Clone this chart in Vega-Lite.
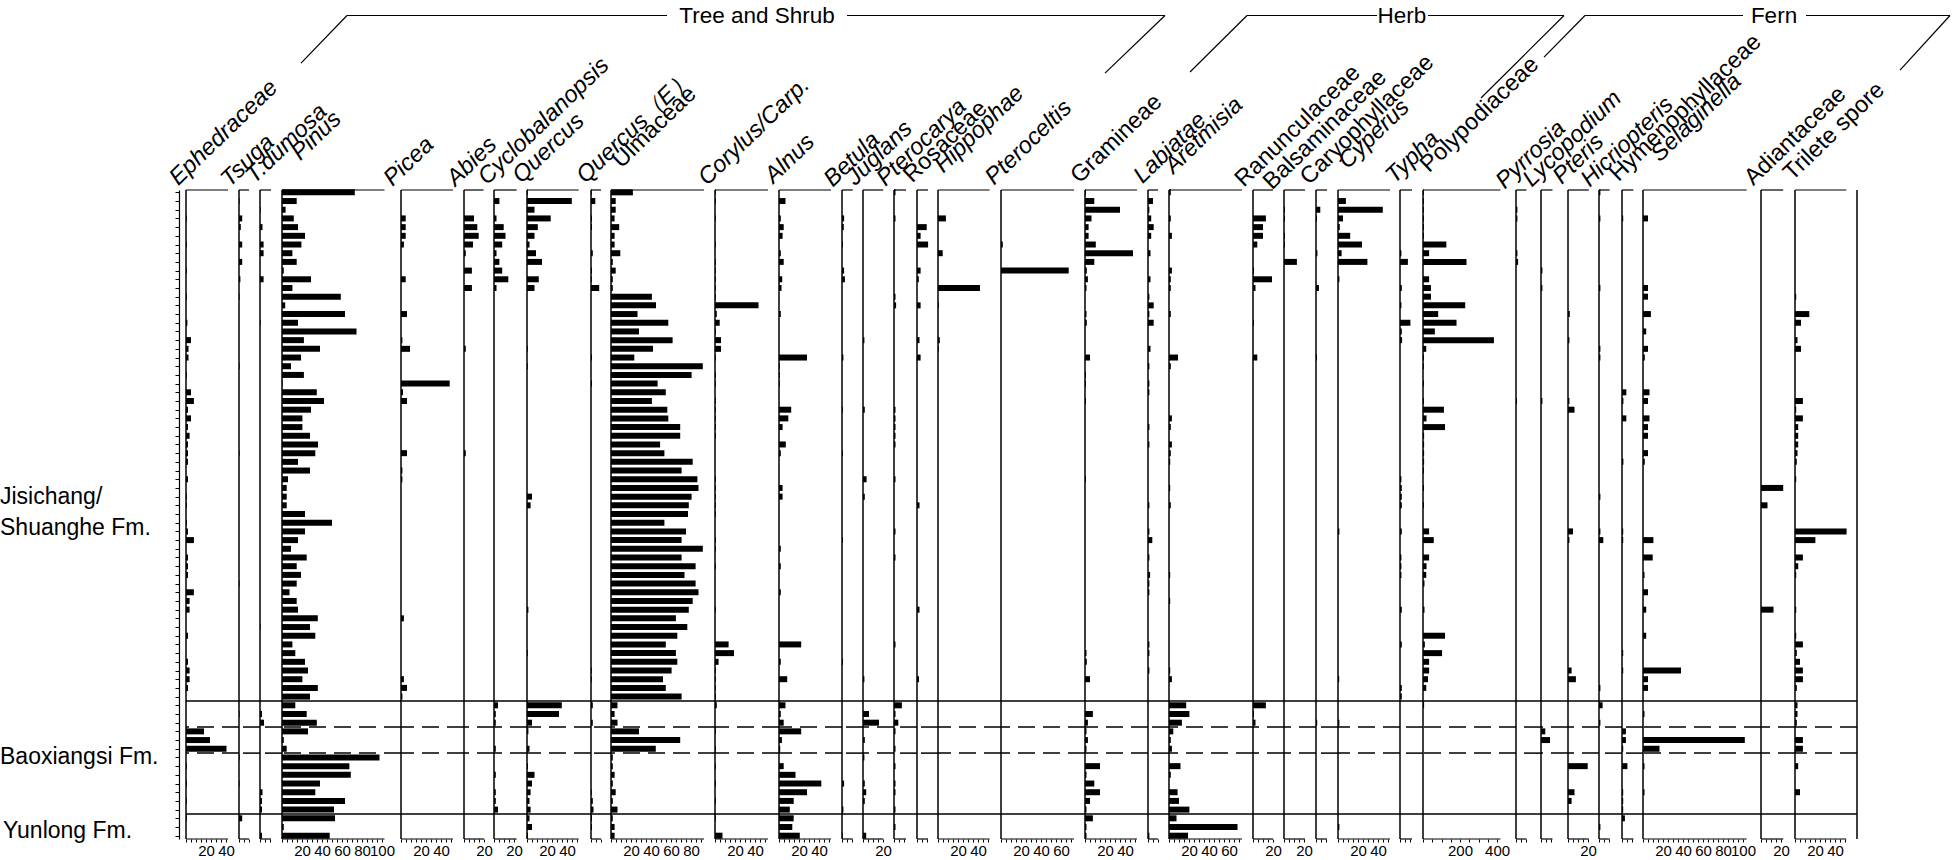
{
"$schema":"https://vega.github.io/schema/vega-lite/v6.json",
"background":"white",
"padding":{"top":5,"left":0,"right":0,"bottom":0},
"autosize":{"type":"pad"},
"spacing":0,
"bounds":"flush",
"config":{"view":{"stroke":null},"font":"Liberation Sans","text":{"font":"Liberation Sans","color":"black"},"axis":{"labelFont":"Liberation Sans"}},
"datasets":{
"z":[{"z":58.5,"s":"solid"},{"z":61.5,"s":"dash"},{"z":64.5,"s":"dash"},{"z":71.5,"s":"solid"}],
"p":[
{"t":"Eph","r":3,"v":0.8},{"t":"Eph","r":6,"v":0.8},{"t":"Eph","r":9,"v":0.8},{"t":"Eph","r":12,"v":0.8},{"t":"Eph","r":15,"v":1.4},{"t":"Eph","r":17,"v":5},{"t":"Eph","r":18,"v":2.5},{"t":"Eph","r":19,"v":2.5},{"t":"Eph","r":21,"v":0.8},{"t":"Eph","r":23,"v":5},{"t":"Eph","r":24,"v":7.9},{"t":"Eph","r":25,"v":2},{"t":"Eph","r":26,"v":5},{"t":"Eph","r":27,"v":2},{"t":"Eph","r":28,"v":3.6},{"t":"Eph","r":29,"v":2},{"t":"Eph","r":30,"v":2},{"t":"Eph","r":31,"v":2},{"t":"Eph","r":33,"v":2},{"t":"Eph","r":35,"v":0.8},{"t":"Eph","r":36,"v":0.8},{"t":"Eph","r":38,"v":0.8},{"t":"Eph","r":39,"v":2},{"t":"Eph","r":40,"v":7.9},{"t":"Eph","r":42,"v":2},{"t":"Eph","r":43,"v":2},{"t":"Eph","r":44,"v":2},{"t":"Eph","r":46,"v":7.9},{"t":"Eph","r":47,"v":3.6},{"t":"Eph","r":48,"v":3.6},{"t":"Eph","r":51,"v":2},{"t":"Eph","r":54,"v":2},{"t":"Eph","r":55,"v":3.6},{"t":"Eph","r":56,"v":3.6},{"t":"Eph","r":57,"v":2},{"t":"Eph","r":62,"v":18},{"t":"Eph","r":63,"v":24},{"t":"Eph","r":64,"v":40.5},{"t":"Eph","r":66,"v":0.8},{"t":"Eph","r":68,"v":0.8},{"t":"Eph","r":70,"v":0.8},{"t":"Eph","r":72,"v":0.8},
{"t":"Tsu","r":1,"v":0.6},{"t":"Tsu","r":3,"v":3.2},{"t":"Tsu","r":4,"v":1.8},{"t":"Tsu","r":6,"v":3.2},{"t":"Tsu","r":8,"v":3.2},{"t":"Tsu","r":10,"v":1.4},{"t":"Tsu","r":12,"v":0.6},{"t":"Tsu","r":20,"v":0.6},{"t":"Tsu","r":30,"v":0.6},{"t":"Tsu","r":45,"v":0.6},{"t":"Tsu","r":60,"v":0.6},{"t":"Tsu","r":65,"v":0.6},{"t":"Tsu","r":68,"v":0.6},{"t":"Tsu","r":72,"v":3.2},
{"t":"Tdu","r":2,"v":0.6},{"t":"Tdu","r":4,"v":2.5},{"t":"Tdu","r":6,"v":3.6},{"t":"Tdu","r":7,"v":3.6},{"t":"Tdu","r":10,"v":3.6},{"t":"Tdu","r":15,"v":0.6},{"t":"Tdu","r":50,"v":0.6},{"t":"Tdu","r":60,"v":2},{"t":"Tdu","r":61,"v":4},{"t":"Tdu","r":69,"v":2.5},{"t":"Tdu","r":70,"v":2},{"t":"Tdu","r":71,"v":2},{"t":"Tdu","r":74,"v":2},
{"t":"Pin","r":0,"v":72.8},{"t":"Pin","r":1,"v":14.7},{"t":"Pin","r":2,"v":3.6},{"t":"Pin","r":3,"v":11.8},{"t":"Pin","r":4,"v":16},{"t":"Pin","r":5,"v":23},{"t":"Pin","r":6,"v":19.4},{"t":"Pin","r":7,"v":10.4},{"t":"Pin","r":8,"v":14.7},{"t":"Pin","r":9,"v":1.8},{"t":"Pin","r":10,"v":29},{"t":"Pin","r":11,"v":10.4},{"t":"Pin","r":12,"v":58.8},{"t":"Pin","r":13,"v":3.2},{"t":"Pin","r":14,"v":63},{"t":"Pin","r":15,"v":16},{"t":"Pin","r":16,"v":74.5},{"t":"Pin","r":17,"v":21.9},{"t":"Pin","r":18,"v":38},{"t":"Pin","r":19,"v":19},{"t":"Pin","r":20,"v":9},{"t":"Pin","r":21,"v":21.9},{"t":"Pin","r":22,"v":0.5},{"t":"Pin","r":23,"v":34.8},{"t":"Pin","r":24,"v":42},{"t":"Pin","r":25,"v":29},{"t":"Pin","r":26,"v":20.4},{"t":"Pin","r":27,"v":20.4},{"t":"Pin","r":28,"v":28},{"t":"Pin","r":29,"v":36},{"t":"Pin","r":30,"v":33.3},{"t":"Pin","r":31,"v":16},{"t":"Pin","r":32,"v":28},{"t":"Pin","r":33,"v":6},{"t":"Pin","r":34,"v":4.7},{"t":"Pin","r":35,"v":4.7},{"t":"Pin","r":36,"v":4.7},{"t":"Pin","r":37,"v":23},{"t":"Pin","r":38,"v":50},{"t":"Pin","r":39,"v":23},{"t":"Pin","r":40,"v":16},{"t":"Pin","r":41,"v":9},{"t":"Pin","r":42,"v":24.7},{"t":"Pin","r":43,"v":14.7},{"t":"Pin","r":44,"v":19},{"t":"Pin","r":45,"v":14.7},{"t":"Pin","r":46,"v":7.5},{"t":"Pin","r":47,"v":14.7},{"t":"Pin","r":48,"v":16},{"t":"Pin","r":49,"v":35.8},{"t":"Pin","r":50,"v":28},{"t":"Pin","r":51,"v":33.3},{"t":"Pin","r":52,"v":10.4},{"t":"Pin","r":53,"v":13.3},{"t":"Pin","r":54,"v":23},{"t":"Pin","r":55,"v":26},{"t":"Pin","r":56,"v":20.4},{"t":"Pin","r":57,"v":35.8},{"t":"Pin","r":58,"v":28},{"t":"Pin","r":59,"v":13.3},{"t":"Pin","r":60,"v":24.7},{"t":"Pin","r":61,"v":34.8},{"t":"Pin","r":62,"v":26},{"t":"Pin","r":63,"v":1.8},{"t":"Pin","r":64,"v":4.7},{"t":"Pin","r":65,"v":97.5},{"t":"Pin","r":66,"v":67.4},{"t":"Pin","r":67,"v":68.8},{"t":"Pin","r":68,"v":38},{"t":"Pin","r":69,"v":33.3},{"t":"Pin","r":70,"v":63},{"t":"Pin","r":71,"v":52},{"t":"Pin","r":72,"v":53},{"t":"Pin","r":73,"v":1.8},{"t":"Pin","r":74,"v":47.7},
{"t":"Pic","r":3,"v":4.7},{"t":"Pic","r":4,"v":4.7},{"t":"Pic","r":5,"v":4.7},{"t":"Pic","r":6,"v":2.9},{"t":"Pic","r":10,"v":4.7},{"t":"Pic","r":14,"v":6},{"t":"Pic","r":17,"v":1.4},{"t":"Pic","r":18,"v":9},{"t":"Pic","r":22,"v":48.7},{"t":"Pic","r":23,"v":2},{"t":"Pic","r":24,"v":6},{"t":"Pic","r":30,"v":6},{"t":"Pic","r":32,"v":1.4},{"t":"Pic","r":33,"v":1.4},{"t":"Pic","r":49,"v":2.9},{"t":"Pic","r":56,"v":2.9},{"t":"Pic","r":57,"v":6},{"t":"Pic","r":58,"v":1.4},
{"t":"Abi","r":3,"v":10},{"t":"Abi","r":4,"v":13.3},{"t":"Abi","r":5,"v":14.7},{"t":"Abi","r":6,"v":9},{"t":"Abi","r":7,"v":1.8},{"t":"Abi","r":9,"v":7.9},{"t":"Abi","r":11,"v":7.9},{"t":"Abi","r":18,"v":1.8},{"t":"Abi","r":30,"v":1.8},
{"t":"Cyc","r":1,"v":5.4},{"t":"Cyc","r":3,"v":2.5},{"t":"Cyc","r":4,"v":9.7},{"t":"Cyc","r":5,"v":11.5},{"t":"Cyc","r":6,"v":8.2},{"t":"Cyc","r":7,"v":2.5},{"t":"Cyc","r":8,"v":5.4},{"t":"Cyc","r":9,"v":8.2},{"t":"Cyc","r":10,"v":14.3},{"t":"Cyc","r":11,"v":2.5},{"t":"Cyc","r":59,"v":4},{"t":"Cyc","r":60,"v":1.8},{"t":"Cyc","r":61,"v":1.8},{"t":"Cyc","r":64,"v":1.8},{"t":"Cyc","r":67,"v":1.8},{"t":"Cyc","r":69,"v":1.8},{"t":"Cyc","r":70,"v":1.8},{"t":"Cyc","r":71,"v":4},
{"t":"Que","r":0,"v":0.8},{"t":"Que","r":1,"v":44.8},{"t":"Que","r":2,"v":7.5},{"t":"Que","r":3,"v":23.7},{"t":"Que","r":4,"v":10.8},{"t":"Que","r":5,"v":7.5},{"t":"Que","r":6,"v":2.5},{"t":"Que","r":7,"v":9},{"t":"Que","r":8,"v":15},{"t":"Que","r":10,"v":11.8},{"t":"Que","r":11,"v":7.5},{"t":"Que","r":18,"v":0.8},{"t":"Que","r":20,"v":0.8},{"t":"Que","r":35,"v":5},{"t":"Que","r":36,"v":3.6},{"t":"Que","r":48,"v":1.4},{"t":"Que","r":53,"v":0.8},{"t":"Que","r":59,"v":34.8},{"t":"Que","r":60,"v":32},{"t":"Que","r":61,"v":5},{"t":"Que","r":62,"v":1.4},{"t":"Que","r":64,"v":2.5},{"t":"Que","r":66,"v":1},{"t":"Que","r":67,"v":7.5},{"t":"Que","r":68,"v":5},{"t":"Que","r":69,"v":3.6},{"t":"Que","r":70,"v":2.5},{"t":"Que","r":71,"v":3.6},{"t":"Que","r":72,"v":2.5},{"t":"Que","r":73,"v":5},{"t":"Que","r":74,"v":1},
{"t":"QuE","r":0,"v":0.8},{"t":"QuE","r":1,"v":4.3},{"t":"QuE","r":3,"v":1},{"t":"QuE","r":4,"v":1},{"t":"QuE","r":7,"v":1.8},{"t":"QuE","r":9,"v":1},{"t":"QuE","r":10,"v":0.8},{"t":"QuE","r":11,"v":8.2},{"t":"QuE","r":19,"v":1},{"t":"QuE","r":22,"v":1},{"t":"QuE","r":55,"v":0.8},{"t":"QuE","r":56,"v":0.8},{"t":"QuE","r":59,"v":1.8},{"t":"QuE","r":61,"v":1.8},{"t":"QuE","r":69,"v":0.8},{"t":"QuE","r":70,"v":1.8},{"t":"QuE","r":71,"v":2.5},{"t":"QuE","r":72,"v":1},{"t":"QuE","r":73,"v":1},
{"t":"Ulm","r":0,"v":21.9},{"t":"Ulm","r":1,"v":4.7},{"t":"Ulm","r":2,"v":4.7},{"t":"Ulm","r":3,"v":3.6},{"t":"Ulm","r":4,"v":8.2},{"t":"Ulm","r":5,"v":3.6},{"t":"Ulm","r":6,"v":3.6},{"t":"Ulm","r":7,"v":9.3},{"t":"Ulm","r":8,"v":1.8},{"t":"Ulm","r":9,"v":4.7},{"t":"Ulm","r":10,"v":1.8},{"t":"Ulm","r":11,"v":1.8},{"t":"Ulm","r":12,"v":40.9},{"t":"Ulm","r":13,"v":45},{"t":"Ulm","r":14,"v":26.5},{"t":"Ulm","r":15,"v":57.3},{"t":"Ulm","r":16,"v":28},{"t":"Ulm","r":17,"v":61.6},{"t":"Ulm","r":18,"v":42},{"t":"Ulm","r":19,"v":23.3},{"t":"Ulm","r":20,"v":91.8},{"t":"Ulm","r":21,"v":80.6},{"t":"Ulm","r":22,"v":46.6},{"t":"Ulm","r":23,"v":54.8},{"t":"Ulm","r":24,"v":40.9},{"t":"Ulm","r":25,"v":56.3},{"t":"Ulm","r":26,"v":57.3},{"t":"Ulm","r":27,"v":69.2},{"t":"Ulm","r":28,"v":69.2},{"t":"Ulm","r":29,"v":49.1},{"t":"Ulm","r":30,"v":53.4},{"t":"Ulm","r":31,"v":81.7},{"t":"Ulm","r":32,"v":70.6},{"t":"Ulm","r":33,"v":86.4},{"t":"Ulm","r":34,"v":87.5},{"t":"Ulm","r":35,"v":80.6},{"t":"Ulm","r":36,"v":77.8},{"t":"Ulm","r":37,"v":77},{"t":"Ulm","r":38,"v":53.4},{"t":"Ulm","r":39,"v":75},{"t":"Ulm","r":40,"v":70.6},{"t":"Ulm","r":41,"v":91.8},{"t":"Ulm","r":42,"v":70.6},{"t":"Ulm","r":43,"v":84.6},{"t":"Ulm","r":44,"v":73.5},{"t":"Ulm","r":45,"v":84.6},{"t":"Ulm","r":46,"v":87.5},{"t":"Ulm","r":47,"v":81.7},{"t":"Ulm","r":48,"v":77.8},{"t":"Ulm","r":49,"v":64.9},{"t":"Ulm","r":50,"v":76.3},{"t":"Ulm","r":51,"v":66.3},{"t":"Ulm","r":52,"v":54.8},{"t":"Ulm","r":53,"v":64.9},{"t":"Ulm","r":54,"v":66.3},{"t":"Ulm","r":55,"v":60.6},{"t":"Ulm","r":56,"v":52},{"t":"Ulm","r":57,"v":54.8},{"t":"Ulm","r":58,"v":70.6},{"t":"Ulm","r":59,"v":6.5},{"t":"Ulm","r":60,"v":3.6},{"t":"Ulm","r":61,"v":6.5},{"t":"Ulm","r":62,"v":28},{"t":"Ulm","r":63,"v":69.2},{"t":"Ulm","r":64,"v":44.8},{"t":"Ulm","r":65,"v":1.8},{"t":"Ulm","r":66,"v":1.8},{"t":"Ulm","r":67,"v":3.6},{"t":"Ulm","r":68,"v":1.8},{"t":"Ulm","r":69,"v":4.7},{"t":"Ulm","r":70,"v":1.8},{"t":"Ulm","r":71,"v":6.5},{"t":"Ulm","r":72,"v":1.8},{"t":"Ulm","r":73,"v":3.6},{"t":"Ulm","r":74,"v":3.6},
{"t":"Cor","r":0,"v":0.8},{"t":"Cor","r":1,"v":0.8},{"t":"Cor","r":3,"v":0.8},{"t":"Cor","r":6,"v":0.8},{"t":"Cor","r":8,"v":0.8},{"t":"Cor","r":9,"v":0.8},{"t":"Cor","r":10,"v":0.8},{"t":"Cor","r":11,"v":0.8},{"t":"Cor","r":12,"v":0.8},{"t":"Cor","r":13,"v":43.5},{"t":"Cor","r":14,"v":1.8},{"t":"Cor","r":15,"v":4.7},{"t":"Cor","r":16,"v":0.8},{"t":"Cor","r":17,"v":6},{"t":"Cor","r":18,"v":6},{"t":"Cor","r":19,"v":0.8},{"t":"Cor","r":21,"v":0.8},{"t":"Cor","r":22,"v":0.8},{"t":"Cor","r":24,"v":0.8},{"t":"Cor","r":25,"v":0.8},{"t":"Cor","r":26,"v":0.8},{"t":"Cor","r":27,"v":0.8},{"t":"Cor","r":28,"v":0.8},{"t":"Cor","r":33,"v":0.8},{"t":"Cor","r":34,"v":0.8},{"t":"Cor","r":35,"v":0.8},{"t":"Cor","r":36,"v":0.8},{"t":"Cor","r":37,"v":0.8},{"t":"Cor","r":40,"v":0.8},{"t":"Cor","r":41,"v":0.8},{"t":"Cor","r":43,"v":0.8},{"t":"Cor","r":48,"v":0.8},{"t":"Cor","r":52,"v":13.6},{"t":"Cor","r":53,"v":19},{"t":"Cor","r":54,"v":3.6},{"t":"Cor","r":55,"v":0.8},{"t":"Cor","r":56,"v":0.8},{"t":"Cor","r":57,"v":0.8},{"t":"Cor","r":58,"v":0.8},{"t":"Cor","r":59,"v":1.8},{"t":"Cor","r":62,"v":0.8},{"t":"Cor","r":64,"v":0.8},{"t":"Cor","r":66,"v":0.8},{"t":"Cor","r":68,"v":0.8},{"t":"Cor","r":70,"v":0.8},{"t":"Cor","r":72,"v":0.8},{"t":"Cor","r":74,"v":7.5},
{"t":"Aln","r":1,"v":6.5},{"t":"Aln","r":3,"v":1.8},{"t":"Aln","r":4,"v":4.7},{"t":"Aln","r":5,"v":3.6},{"t":"Aln","r":7,"v":1.8},{"t":"Aln","r":8,"v":4.7},{"t":"Aln","r":10,"v":3.2},{"t":"Aln","r":11,"v":2.5},{"t":"Aln","r":14,"v":1.8},{"t":"Aln","r":19,"v":28},{"t":"Aln","r":20,"v":0.8},{"t":"Aln","r":21,"v":0.8},{"t":"Aln","r":22,"v":0.8},{"t":"Aln","r":25,"v":12.2},{"t":"Aln","r":26,"v":9.3},{"t":"Aln","r":27,"v":3.6},{"t":"Aln","r":29,"v":6.8},{"t":"Aln","r":30,"v":1.8},{"t":"Aln","r":34,"v":3.6},{"t":"Aln","r":35,"v":3.6},{"t":"Aln","r":41,"v":1.8},{"t":"Aln","r":43,"v":1.8},{"t":"Aln","r":46,"v":1.8},{"t":"Aln","r":52,"v":22.2},{"t":"Aln","r":54,"v":1.8},{"t":"Aln","r":56,"v":8.2},{"t":"Aln","r":59,"v":6.5},{"t":"Aln","r":60,"v":1.8},{"t":"Aln","r":61,"v":4.7},{"t":"Aln","r":62,"v":22.2},{"t":"Aln","r":63,"v":2.9},{"t":"Aln","r":64,"v":1.2},{"t":"Aln","r":66,"v":4.7},{"t":"Aln","r":67,"v":16.5},{"t":"Aln","r":68,"v":42.3},{"t":"Aln","r":69,"v":28},{"t":"Aln","r":70,"v":14.7},{"t":"Aln","r":71,"v":10.8},{"t":"Aln","r":72,"v":14.7},{"t":"Aln","r":73,"v":13.3},{"t":"Aln","r":74,"v":20.8},
{"t":"Bet","r":3,"v":2.1},{"t":"Bet","r":4,"v":1.8},{"t":"Bet","r":6,"v":1},{"t":"Bet","r":9,"v":2.1},{"t":"Bet","r":10,"v":2.9},{"t":"Bet","r":19,"v":1.4},{"t":"Bet","r":25,"v":0.8},{"t":"Bet","r":30,"v":0.8},{"t":"Bet","r":40,"v":0.8},{"t":"Bet","r":54,"v":1},{"t":"Bet","r":68,"v":2.1},{"t":"Bet","r":71,"v":1.4},{"t":"Bet","r":74,"v":0.8},
{"t":"Jug","r":17,"v":1.4},{"t":"Jug","r":25,"v":1.8},{"t":"Jug","r":33,"v":3.6},{"t":"Jug","r":35,"v":1.8},{"t":"Jug","r":56,"v":1.4},{"t":"Jug","r":60,"v":6},{"t":"Jug","r":61,"v":16},{"t":"Jug","r":63,"v":1.8},{"t":"Jug","r":65,"v":1.4},{"t":"Jug","r":68,"v":1.8},{"t":"Jug","r":69,"v":3.2},{"t":"Jug","r":70,"v":1.8},{"t":"Jug","r":74,"v":3.2},
{"t":"Ptc","r":0,"v":1.5},{"t":"Ptc","r":3,"v":1.5},{"t":"Ptc","r":12,"v":1.5},{"t":"Ptc","r":13,"v":2.1},{"t":"Ptc","r":25,"v":1.5},{"t":"Ptc","r":26,"v":1.5},{"t":"Ptc","r":27,"v":1.5},{"t":"Ptc","r":28,"v":1.5},{"t":"Ptc","r":29,"v":1.5},{"t":"Ptc","r":33,"v":1.5},{"t":"Ptc","r":39,"v":1.5},{"t":"Ptc","r":42,"v":1.5},{"t":"Ptc","r":52,"v":1.5},{"t":"Ptc","r":59,"v":7.9},{"t":"Ptc","r":60,"v":1.5},{"t":"Ptc","r":61,"v":4.3},{"t":"Ptc","r":62,"v":1.5},{"t":"Ptc","r":64,"v":1.5},{"t":"Ptc","r":66,"v":1.5},{"t":"Ptc","r":68,"v":1.5},{"t":"Ptc","r":69,"v":1.5},{"t":"Ptc","r":71,"v":1.5},{"t":"Ptc","r":73,"v":1.5},
{"t":"Ros","r":4,"v":9.7},{"t":"Ros","r":5,"v":3.6},{"t":"Ros","r":6,"v":11.1},{"t":"Ros","r":9,"v":3.6},{"t":"Ros","r":10,"v":1.8},{"t":"Ros","r":13,"v":3.6},{"t":"Ros","r":17,"v":2.5},{"t":"Ros","r":19,"v":3.6},{"t":"Ros","r":36,"v":2.5},{"t":"Ros","r":48,"v":2.5},{"t":"Ros","r":56,"v":2},
{"t":"Hip","r":3,"v":7.9},{"t":"Hip","r":7,"v":4.7},{"t":"Hip","r":11,"v":42},{"t":"Hip","r":13,"v":0.8},{"t":"Hip","r":17,"v":1.8},{"t":"Hip","r":18,"v":0.8},
{"t":"Ptl","r":6,"v":1.8},{"t":"Ptl","r":9,"v":67.7},
{"t":"Gra","r":0,"v":0.8},{"t":"Gra","r":1,"v":9.3},{"t":"Gra","r":2,"v":35},{"t":"Gra","r":3,"v":6.5},{"t":"Gra","r":4,"v":3.6},{"t":"Gra","r":5,"v":3.6},{"t":"Gra","r":6,"v":10.8},{"t":"Gra","r":7,"v":48},{"t":"Gra","r":8,"v":9.3},{"t":"Gra","r":9,"v":1.8},{"t":"Gra","r":10,"v":2.9},{"t":"Gra","r":11,"v":1.5},{"t":"Gra","r":14,"v":1.5},{"t":"Gra","r":15,"v":1.8},{"t":"Gra","r":19,"v":5},{"t":"Gra","r":21,"v":1},{"t":"Gra","r":22,"v":1},{"t":"Gra","r":24,"v":1},{"t":"Gra","r":33,"v":1},{"t":"Gra","r":53,"v":1.5},{"t":"Gra","r":54,"v":1.8},{"t":"Gra","r":56,"v":5},{"t":"Gra","r":60,"v":7.9},{"t":"Gra","r":61,"v":2.9},{"t":"Gra","r":62,"v":1.5},{"t":"Gra","r":63,"v":2.9},{"t":"Gra","r":64,"v":1.5},{"t":"Gra","r":66,"v":15},{"t":"Gra","r":67,"v":1.5},{"t":"Gra","r":68,"v":9.3},{"t":"Gra","r":69,"v":15},{"t":"Gra","r":70,"v":5},{"t":"Gra","r":71,"v":1.5},{"t":"Gra","r":72,"v":7.9},{"t":"Gra","r":73,"v":1.5},{"t":"Gra","r":74,"v":1.5},
{"t":"Lab","r":1,"v":5},{"t":"Lab","r":2,"v":1.4},{"t":"Lab","r":3,"v":3.2},{"t":"Lab","r":4,"v":5.7},{"t":"Lab","r":5,"v":3.2},{"t":"Lab","r":7,"v":2.5},{"t":"Lab","r":10,"v":2.5},{"t":"Lab","r":12,"v":1.4},{"t":"Lab","r":13,"v":5.7},{"t":"Lab","r":14,"v":1.4},{"t":"Lab","r":15,"v":5.7},{"t":"Lab","r":18,"v":2.5},{"t":"Lab","r":20,"v":1.4},{"t":"Lab","r":22,"v":1.4},{"t":"Lab","r":23,"v":1.4},{"t":"Lab","r":27,"v":1.4},{"t":"Lab","r":29,"v":1.4},{"t":"Lab","r":36,"v":1.4},{"t":"Lab","r":39,"v":1.4},{"t":"Lab","r":40,"v":4.3},{"t":"Lab","r":42,"v":1.4},{"t":"Lab","r":44,"v":2.1},{"t":"Lab","r":45,"v":1.4},{"t":"Lab","r":46,"v":1.4},{"t":"Lab","r":52,"v":1.4},{"t":"Lab","r":53,"v":1.4},{"t":"Lab","r":55,"v":1.4},{"t":"Lab","r":74,"v":1.4},
{"t":"Art","r":0,"v":1.8},{"t":"Art","r":3,"v":1.8},{"t":"Art","r":5,"v":2.9},{"t":"Art","r":9,"v":2.9},{"t":"Art","r":10,"v":1.8},{"t":"Art","r":11,"v":1.8},{"t":"Art","r":14,"v":1.8},{"t":"Art","r":19,"v":9},{"t":"Art","r":20,"v":1.8},{"t":"Art","r":26,"v":2.9},{"t":"Art","r":27,"v":1.8},{"t":"Art","r":29,"v":2.9},{"t":"Art","r":30,"v":1.8},{"t":"Art","r":31,"v":1.2},{"t":"Art","r":34,"v":1.2},{"t":"Art","r":36,"v":1.8},{"t":"Art","r":44,"v":1.2},{"t":"Art","r":47,"v":1.2},{"t":"Art","r":55,"v":1.2},{"t":"Art","r":56,"v":2.9},{"t":"Art","r":59,"v":17.2},{"t":"Art","r":60,"v":20.4},{"t":"Art","r":61,"v":12.9},{"t":"Art","r":62,"v":4.3},{"t":"Art","r":63,"v":1.8},{"t":"Art","r":64,"v":2.9},{"t":"Art","r":66,"v":11.5},{"t":"Art","r":67,"v":1.8},{"t":"Art","r":69,"v":8.6},{"t":"Art","r":70,"v":10},{"t":"Art","r":71,"v":20.4},{"t":"Art","r":72,"v":7.5},{"t":"Art","r":73,"v":68.5},{"t":"Art","r":74,"v":19},
{"t":"Ran","r":3,"v":12.9},{"t":"Ran","r":4,"v":10},{"t":"Ran","r":5,"v":10},{"t":"Ran","r":6,"v":4.3},{"t":"Ran","r":9,"v":1},{"t":"Ran","r":10,"v":19},{"t":"Ran","r":11,"v":2.5},{"t":"Ran","r":15,"v":1},{"t":"Ran","r":19,"v":4.3},{"t":"Ran","r":59,"v":12.9},{"t":"Ran","r":60,"v":1},{"t":"Ran","r":61,"v":2.5},
{"t":"Bal","r":2,"v":1},{"t":"Bal","r":3,"v":1},{"t":"Bal","r":5,"v":1},{"t":"Bal","r":6,"v":1},{"t":"Bal","r":8,"v":12.9},
{"t":"Car","r":2,"v":4.3},{"t":"Car","r":3,"v":1},{"t":"Car","r":7,"v":1.4},{"t":"Car","r":11,"v":2.9},{"t":"Car","r":19,"v":1},{"t":"Car","r":61,"v":1.2},
{"t":"Cyp","r":1,"v":7.9},{"t":"Cyp","r":2,"v":44.8},{"t":"Cyp","r":3,"v":5},{"t":"Cyp","r":4,"v":1.8},{"t":"Cyp","r":5,"v":12.2},{"t":"Cyp","r":6,"v":24},{"t":"Cyp","r":7,"v":3.6},{"t":"Cyp","r":8,"v":29.4},{"t":"Cyp","r":10,"v":1.4},{"t":"Cyp","r":39,"v":1.4},{"t":"Cyp","r":56,"v":1.2},{"t":"Cyp","r":61,"v":1.4},{"t":"Cyp","r":73,"v":1.4},
{"t":"Typ","r":7,"v":1.4},{"t":"Typ","r":8,"v":7.9},{"t":"Typ","r":11,"v":1.8},{"t":"Typ","r":13,"v":1.4},{"t":"Typ","r":15,"v":10.4},{"t":"Typ","r":16,"v":1.8},{"t":"Typ","r":17,"v":2.1},{"t":"Typ","r":33,"v":1.4},{"t":"Typ","r":34,"v":1.8},{"t":"Typ","r":35,"v":1.8},{"t":"Typ","r":36,"v":1.8},{"t":"Typ","r":39,"v":1.8},{"t":"Typ","r":42,"v":1.4},{"t":"Typ","r":43,"v":1.4},{"t":"Typ","r":44,"v":1.4},{"t":"Typ","r":48,"v":1.8},{"t":"Typ","r":52,"v":1.8},{"t":"Typ","r":57,"v":1.8},{"t":"Typ","r":58,"v":1.8},
{"t":"Pol","r":0,"v":5},{"t":"Pol","r":1,"v":5},{"t":"Pol","r":2,"v":5},{"t":"Pol","r":3,"v":5},{"t":"Pol","r":4,"v":5},{"t":"Pol","r":5,"v":5},{"t":"Pol","r":6,"v":126},{"t":"Pol","r":7,"v":33},{"t":"Pol","r":8,"v":235},{"t":"Pol","r":10,"v":33},{"t":"Pol","r":11,"v":43},{"t":"Pol","r":12,"v":43},{"t":"Pol","r":13,"v":228},{"t":"Pol","r":14,"v":82},{"t":"Pol","r":15,"v":181},{"t":"Pol","r":16,"v":64},{"t":"Pol","r":17,"v":383},{"t":"Pol","r":18,"v":17.5},{"t":"Pol","r":19,"v":5},{"t":"Pol","r":20,"v":5},{"t":"Pol","r":22,"v":5},{"t":"Pol","r":24,"v":5},{"t":"Pol","r":25,"v":113},{"t":"Pol","r":26,"v":19},{"t":"Pol","r":27,"v":119},{"t":"Pol","r":28,"v":6},{"t":"Pol","r":29,"v":6},{"t":"Pol","r":30,"v":6},{"t":"Pol","r":31,"v":6},{"t":"Pol","r":32,"v":5},{"t":"Pol","r":34,"v":5},{"t":"Pol","r":36,"v":5},{"t":"Pol","r":39,"v":33},{"t":"Pol","r":40,"v":58},{"t":"Pol","r":42,"v":33},{"t":"Pol","r":43,"v":19},{"t":"Pol","r":44,"v":17.5},{"t":"Pol","r":45,"v":8},{"t":"Pol","r":48,"v":8},{"t":"Pol","r":51,"v":119},{"t":"Pol","r":52,"v":10},{"t":"Pol","r":53,"v":103},{"t":"Pol","r":54,"v":33},{"t":"Pol","r":55,"v":33},{"t":"Pol","r":56,"v":27},{"t":"Pol","r":57,"v":17.5},{"t":"Pol","r":59,"v":6},
{"t":"Pyr","r":2,"v":1.4},{"t":"Pyr","r":3,"v":1.4},{"t":"Pyr","r":7,"v":1.4},{"t":"Pyr","r":8,"v":2.1},{"t":"Pyr","r":24,"v":1},
{"t":"Lyc","r":9,"v":1.4},{"t":"Lyc","r":11,"v":1.4},{"t":"Lyc","r":24,"v":1.4},{"t":"Lyc","r":62,"v":4.3},{"t":"Lyc","r":63,"v":9},
{"t":"Pte","r":14,"v":1.8},{"t":"Pte","r":17,"v":1.4},{"t":"Pte","r":24,"v":1.4},{"t":"Pte","r":25,"v":6.5},{"t":"Pte","r":39,"v":5},{"t":"Pte","r":40,"v":1.4},{"t":"Pte","r":55,"v":3.6},{"t":"Pte","r":56,"v":7.9},{"t":"Pte","r":66,"v":19.7},{"t":"Pte","r":69,"v":6.5},{"t":"Pte","r":70,"v":3.6},
{"t":"Hic","r":0,"v":1.4},{"t":"Hic","r":3,"v":1.4},{"t":"Hic","r":11,"v":1.4},{"t":"Hic","r":18,"v":1.4},{"t":"Hic","r":19,"v":1.4},{"t":"Hic","r":35,"v":1.4},{"t":"Hic","r":39,"v":1.4},{"t":"Hic","r":40,"v":4.3},{"t":"Hic","r":57,"v":1.4},{"t":"Hic","r":59,"v":3.6},{"t":"Hic","r":61,"v":1.4},{"t":"Hic","r":73,"v":1.4},
{"t":"Hym","r":3,"v":1.2},{"t":"Hym","r":23,"v":4.3},{"t":"Hym","r":24,"v":1.4},{"t":"Hym","r":26,"v":4.3},{"t":"Hym","r":31,"v":1.4},{"t":"Hym","r":39,"v":1.2},{"t":"Hym","r":40,"v":1.2},{"t":"Hym","r":53,"v":1.2},{"t":"Hym","r":55,"v":1.2},{"t":"Hym","r":62,"v":3.9},{"t":"Hym","r":63,"v":3.9},{"t":"Hym","r":64,"v":1.2},{"t":"Hym","r":66,"v":5.4},{"t":"Hym","r":69,"v":1.2},{"t":"Hym","r":70,"v":1.2},{"t":"Hym","r":71,"v":1.2},{"t":"Hym","r":72,"v":2.9},
{"t":"Sel","r":3,"v":5},{"t":"Sel","r":11,"v":5},{"t":"Sel","r":12,"v":5},{"t":"Sel","r":14,"v":7.9},{"t":"Sel","r":16,"v":3.2},{"t":"Sel","r":18,"v":5},{"t":"Sel","r":19,"v":1.8},{"t":"Sel","r":23,"v":6.5},{"t":"Sel","r":24,"v":5},{"t":"Sel","r":26,"v":6.5},{"t":"Sel","r":27,"v":5},{"t":"Sel","r":28,"v":5},{"t":"Sel","r":30,"v":5},{"t":"Sel","r":31,"v":1.8},{"t":"Sel","r":40,"v":10.4},{"t":"Sel","r":42,"v":9.7},{"t":"Sel","r":44,"v":1.5},{"t":"Sel","r":46,"v":5},{"t":"Sel","r":48,"v":3.2},{"t":"Sel","r":51,"v":3.2},{"t":"Sel","r":55,"v":38},{"t":"Sel","r":56,"v":5},{"t":"Sel","r":57,"v":5},{"t":"Sel","r":60,"v":1.5},{"t":"Sel","r":63,"v":101.8},{"t":"Sel","r":64,"v":16.5},{"t":"Sel","r":66,"v":1.5},{"t":"Sel","r":69,"v":1.5},
{"t":"Adi","r":34,"v":22.2},{"t":"Adi","r":36,"v":6.5},{"t":"Adi","r":48,"v":12.5},
{"t":"Tri","r":12,"v":1.2},{"t":"Tri","r":14,"v":14.3},{"t":"Tri","r":15,"v":6},{"t":"Tri","r":17,"v":2.5},{"t":"Tri","r":18,"v":6},{"t":"Tri","r":24,"v":7.9},{"t":"Tri","r":25,"v":1.2},{"t":"Tri","r":26,"v":7.9},{"t":"Tri","r":27,"v":3.2},{"t":"Tri","r":28,"v":3.2},{"t":"Tri","r":29,"v":3.2},{"t":"Tri","r":30,"v":2.5},{"t":"Tri","r":31,"v":1.8},{"t":"Tri","r":33,"v":1.2},{"t":"Tri","r":39,"v":51.6},{"t":"Tri","r":40,"v":20.4},{"t":"Tri","r":42,"v":7.9},{"t":"Tri","r":43,"v":3.2},{"t":"Tri","r":44,"v":1.2},{"t":"Tri","r":48,"v":1.2},{"t":"Tri","r":51,"v":1.2},{"t":"Tri","r":52,"v":7.9},{"t":"Tri","r":53,"v":1.8},{"t":"Tri","r":54,"v":5},{"t":"Tri","r":55,"v":7.9},{"t":"Tri","r":56,"v":7.9},{"t":"Tri","r":57,"v":1.8},{"t":"Tri","r":59,"v":2.5},{"t":"Tri","r":60,"v":2.5},{"t":"Tri","r":61,"v":1.8},{"t":"Tri","r":63,"v":7.9},{"t":"Tri","r":64,"v":7.9},{"t":"Tri","r":66,"v":3.2},{"t":"Tri","r":69,"v":5}
]},
"hconcat":[
{"width":53,"height":649,"resolve":{"axis":{"x":"independent","y":"independent"}},"layer":[
{"data":{"name":"p"},"transform":[{"filter":"datum.t==='Eph'"}],"mark":{"type":"bar","orient":"horizontal","size":6,"color":"black"},"encoding":{"y":{"field":"r","type":"quantitative","scale":{"domain":[-0.27,74.38],"reverse":true,"nice":false,"zero":false,"padding":0},"axis":{"orient":"left","offset":7,"values":[0,1,2,3,4,5,6,7,8,9,10,11,12,13,14,15,16,17,18,19,20,21,22,23,24,25,26,27,28,29,30,31,32,33,34,35,36,37,38,39,40,41,42,43,44,45,46,47,48,49,50,51,52,53,54,55,56,57,58,59,60,61,62,63,64,65,66,67,68,69,70,71,72,73,74],"labels":false,"ticks":true,"tickSize":4,"tickColor":"black","domain":true,"domainColor":"black","domainWidth":1.2,"grid":false,"title":null}},"x":{"field":"v","type":"quantitative","scale":{"domain":[0,53],"nice":false},"axis":{"values":[0,5,10,15,20,25,30,35,40],"domain":false,"grid":false,"title":null,"tickSize":3,"tickColor":"black","labelExpr":"datum.value > 0 && datum.value % 20 === 0 ? datum.label : ''","labelFontSize":15,"labelPadding":1,"labelColor":"black","labelOverlap":false,"labelFlush":false,"labelBound":false}}}},
{"data":{"values":[{}]},"mark":{"type":"rule","color":"black","strokeWidth":1.5},"encoding":{"x":{"datum":0,"axis":null}}},
{"data":{"values":[{}]},"mark":{"type":"rule","color":"black","strokeWidth":1.2},"encoding":{"x":{"datum":0,"axis":null},"x2":{"datum":42},"y":{"datum":-0.27,"axis":null}}},
{"data":{"values":[{}]},"mark":{"type":"rule","color":"black","strokeWidth":1.2},"encoding":{"x":{"datum":0,"axis":null},"x2":{"datum":42},"y":{"datum":74.38,"axis":null}}},
{"data":{"name":"z"},"mark":{"type":"rule","color":"black","strokeWidth":1.5},"encoding":{"y":{"field":"z","type":"quantitative","axis":null},"strokeDash":{"field":"s","type":"nominal","scale":{"domain":["solid","dash"],"range":[[1,0],[17,8]]},"legend":null}}},
{"data":{"values":[{}]},"mark":{"type":"text","angle":-44,"align":"left","baseline":"alphabetic","fontSize":23.5,"fontStyle":"italic","dx":-3,"dy":-8},"encoding":{"x":{"datum":0,"axis":null},"y":{"datum":-0.27,"axis":null},"text":{"value":"Ephedraceae"}}},
{"data":{"values":[{}]},"mark":{"type":"text","align":"left","baseline":"middle","fontSize":23,"dx":-186,"lineHeight":31},"encoding":{"x":{"datum":0,"axis":null},"y":{"datum":35.0,"axis":null},"text":{"value":["Jisichang/","Shuanghe Fm."]}}},
{"data":{"values":[{}]},"mark":{"type":"text","align":"left","baseline":"middle","fontSize":23,"dx":-186},"encoding":{"x":{"datum":0,"axis":null},"y":{"datum":65.0,"axis":null},"text":{"value":"Baoxiangsi Fm."}}},
{"data":{"values":[{}]},"mark":{"type":"text","align":"left","baseline":"middle","fontSize":23,"dx":-183},"encoding":{"x":{"datum":0,"axis":null},"y":{"datum":73.46,"axis":null},"text":{"value":"Yunlong Fm."}}},
{"data":{"values":[{}]},"mark":{"type":"rule","color":"black","strokeWidth":1.2},"encoding":{"x":{"datum":115,"axis":null},"y":{"datum":-14.87,"axis":null},"x2":{"datum":161},"y2":{"datum":-20.34}}},
{"data":{"values":[{}]},"mark":{"type":"rule","color":"black","strokeWidth":1.2},"encoding":{"x":{"datum":161,"axis":null},"x2":{"datum":481},"y":{"datum":-20.34,"axis":null}}},
{"data":{"values":[{}]},"mark":{"type":"text","align":"center","baseline":"middle","fontSize":22.5},"encoding":{"x":{"datum":571,"axis":null},"y":{"datum":-20.28,"axis":null},"text":{"value":"Tree and Shrub"}}},
{"data":{"values":[{}]},"mark":{"type":"rule","color":"black","strokeWidth":1.2},"encoding":{"x":{"datum":661,"axis":null},"x2":{"datum":979},"y":{"datum":-20.34,"axis":null}}},
{"data":{"values":[{}]},"mark":{"type":"rule","color":"black","strokeWidth":1.2},"encoding":{"x":{"datum":979,"axis":null},"y":{"datum":-20.34,"axis":null},"x2":{"datum":919},"y2":{"datum":-13.72}}}
]},
{"width":21,"height":649,"resolve":{"axis":{"x":"independent","y":"independent"}},"layer":[
{"data":{"name":"p"},"transform":[{"filter":"datum.t==='Tsu'"}],"mark":{"type":"bar","orient":"horizontal","size":6,"color":"black"},"encoding":{"y":{"field":"r","type":"quantitative","scale":{"domain":[-0.27,74.38],"reverse":true,"nice":false,"zero":false,"padding":0},"axis":null},"x":{"field":"v","type":"quantitative","scale":{"domain":[0,21],"nice":false},"axis":{"values":[0,5,10],"domain":false,"grid":false,"title":null,"tickSize":3,"tickColor":"black","labelExpr":"datum.value > 0 && datum.value % 20 === 0 ? datum.label : ''","labelFontSize":15,"labelPadding":1,"labelColor":"black","labelOverlap":false,"labelFlush":false,"labelBound":false}}}},
{"data":{"values":[{}]},"mark":{"type":"rule","color":"black","strokeWidth":1.5},"encoding":{"x":{"datum":0,"axis":null}}},
{"data":{"values":[{}]},"mark":{"type":"rule","color":"black","strokeWidth":1.2},"encoding":{"x":{"datum":0,"axis":null},"x2":{"datum":10},"y":{"datum":-0.27,"axis":null}}},
{"data":{"values":[{}]},"mark":{"type":"rule","color":"black","strokeWidth":1.2},"encoding":{"x":{"datum":0,"axis":null},"x2":{"datum":10},"y":{"datum":74.38,"axis":null}}},
{"data":{"name":"z"},"mark":{"type":"rule","color":"black","strokeWidth":1.5},"encoding":{"y":{"field":"z","type":"quantitative","axis":null},"strokeDash":{"field":"s","type":"nominal","scale":{"domain":["solid","dash"],"range":[[1,0],[17,8]]},"legend":null}}},
{"data":{"values":[{}]},"mark":{"type":"text","angle":-44,"align":"left","baseline":"alphabetic","fontSize":23.5,"fontStyle":"italic","dx":-5,"dy":-8},"encoding":{"x":{"datum":0,"axis":null},"y":{"datum":-0.27,"axis":null},"text":{"value":"Tsuga"}}}
]},
{"width":22,"height":649,"resolve":{"axis":{"x":"independent","y":"independent"}},"layer":[
{"data":{"name":"p"},"transform":[{"filter":"datum.t==='Tdu'"}],"mark":{"type":"bar","orient":"horizontal","size":6,"color":"black"},"encoding":{"y":{"field":"r","type":"quantitative","scale":{"domain":[-0.27,74.38],"reverse":true,"nice":false,"zero":false,"padding":0},"axis":null},"x":{"field":"v","type":"quantitative","scale":{"domain":[0,22],"nice":false},"axis":{"values":[0,5,10],"domain":false,"grid":false,"title":null,"tickSize":3,"tickColor":"black","labelExpr":"datum.value > 0 && datum.value % 20 === 0 ? datum.label : ''","labelFontSize":15,"labelPadding":1,"labelColor":"black","labelOverlap":false,"labelFlush":false,"labelBound":false}}}},
{"data":{"values":[{}]},"mark":{"type":"rule","color":"black","strokeWidth":1.5},"encoding":{"x":{"datum":0,"axis":null}}},
{"data":{"values":[{}]},"mark":{"type":"rule","color":"black","strokeWidth":1.2},"encoding":{"x":{"datum":0,"axis":null},"x2":{"datum":11},"y":{"datum":-0.27,"axis":null}}},
{"data":{"values":[{}]},"mark":{"type":"rule","color":"black","strokeWidth":1.2},"encoding":{"x":{"datum":0,"axis":null},"x2":{"datum":11},"y":{"datum":74.38,"axis":null}}},
{"data":{"name":"z"},"mark":{"type":"rule","color":"black","strokeWidth":1.5},"encoding":{"y":{"field":"z","type":"quantitative","axis":null},"strokeDash":{"field":"s","type":"nominal","scale":{"domain":["solid","dash"],"range":[[1,0],[17,8]]},"legend":null}}},
{"data":{"values":[{}]},"mark":{"type":"text","angle":-44,"align":"left","baseline":"alphabetic","fontSize":23.5,"fontStyle":"italic","dx":0,"dy":-8},"encoding":{"x":{"datum":0,"axis":null},"y":{"datum":-0.27,"axis":null},"text":{"value":"T.dumosa"}}}
]},
{"width":119,"height":649,"resolve":{"axis":{"x":"independent","y":"independent"}},"layer":[
{"data":{"name":"p"},"transform":[{"filter":"datum.t==='Pin'"}],"mark":{"type":"bar","orient":"horizontal","size":6,"color":"black"},"encoding":{"y":{"field":"r","type":"quantitative","scale":{"domain":[-0.27,74.38],"reverse":true,"nice":false,"zero":false,"padding":0},"axis":null},"x":{"field":"v","type":"quantitative","scale":{"domain":[0,119],"nice":false},"axis":{"values":[0,5,10,15,20,25,30,35,40,45,50,55,60,65,70,75,80,85,90,95,100],"domain":false,"grid":false,"title":null,"tickSize":3,"tickColor":"black","labelExpr":"datum.value > 0 && datum.value % 20 === 0 ? datum.label : ''","labelFontSize":15,"labelPadding":1,"labelColor":"black","labelOverlap":false,"labelFlush":false,"labelBound":false}}}},
{"data":{"values":[{}]},"mark":{"type":"rule","color":"black","strokeWidth":1.5},"encoding":{"x":{"datum":0,"axis":null}}},
{"data":{"values":[{}]},"mark":{"type":"rule","color":"black","strokeWidth":1.2},"encoding":{"x":{"datum":0,"axis":null},"x2":{"datum":102.5},"y":{"datum":-0.27,"axis":null}}},
{"data":{"values":[{}]},"mark":{"type":"rule","color":"black","strokeWidth":1.2},"encoding":{"x":{"datum":0,"axis":null},"x2":{"datum":102.5},"y":{"datum":74.38,"axis":null}}},
{"data":{"name":"z"},"mark":{"type":"rule","color":"black","strokeWidth":1.5},"encoding":{"y":{"field":"z","type":"quantitative","axis":null},"strokeDash":{"field":"s","type":"nominal","scale":{"domain":["solid","dash"],"range":[[1,0],[17,8]]},"legend":null}}},
{"data":{"values":[{}]},"mark":{"type":"text","angle":-44,"align":"left","baseline":"alphabetic","fontSize":23.5,"fontStyle":"italic","dx":33,"dy":-8},"encoding":{"x":{"datum":0,"axis":null},"y":{"datum":-0.27,"axis":null},"text":{"value":"Pinus"}}}
]},
{"width":63,"height":649,"resolve":{"axis":{"x":"independent","y":"independent"}},"layer":[
{"data":{"name":"p"},"transform":[{"filter":"datum.t==='Pic'"}],"mark":{"type":"bar","orient":"horizontal","size":6,"color":"black"},"encoding":{"y":{"field":"r","type":"quantitative","scale":{"domain":[-0.27,74.38],"reverse":true,"nice":false,"zero":false,"padding":0},"axis":null},"x":{"field":"v","type":"quantitative","scale":{"domain":[0,63],"nice":false},"axis":{"values":[0,5,10,15,20,25,30,35,40,45,50],"domain":false,"grid":false,"title":null,"tickSize":3,"tickColor":"black","labelExpr":"datum.value > 0 && datum.value % 20 === 0 ? datum.label : ''","labelFontSize":15,"labelPadding":1,"labelColor":"black","labelOverlap":false,"labelFlush":false,"labelBound":false}}}},
{"data":{"values":[{}]},"mark":{"type":"rule","color":"black","strokeWidth":1.5},"encoding":{"x":{"datum":0,"axis":null}}},
{"data":{"values":[{}]},"mark":{"type":"rule","color":"black","strokeWidth":1.2},"encoding":{"x":{"datum":0,"axis":null},"x2":{"datum":52},"y":{"datum":-0.27,"axis":null}}},
{"data":{"values":[{}]},"mark":{"type":"rule","color":"black","strokeWidth":1.2},"encoding":{"x":{"datum":0,"axis":null},"x2":{"datum":52},"y":{"datum":74.38,"axis":null}}},
{"data":{"name":"z"},"mark":{"type":"rule","color":"black","strokeWidth":1.5},"encoding":{"y":{"field":"z","type":"quantitative","axis":null},"strokeDash":{"field":"s","type":"nominal","scale":{"domain":["solid","dash"],"range":[[1,0],[17,8]]},"legend":null}}},
{"data":{"values":[{}]},"mark":{"type":"text","angle":-44,"align":"left","baseline":"alphabetic","fontSize":23.5,"fontStyle":"italic","dx":-4,"dy":-8},"encoding":{"x":{"datum":0,"axis":null},"y":{"datum":-0.27,"axis":null},"text":{"value":"Picea"}}}
]},
{"width":30,"height":649,"resolve":{"axis":{"x":"independent","y":"independent"}},"layer":[
{"data":{"name":"p"},"transform":[{"filter":"datum.t==='Abi'"}],"mark":{"type":"bar","orient":"horizontal","size":6,"color":"black"},"encoding":{"y":{"field":"r","type":"quantitative","scale":{"domain":[-0.27,74.38],"reverse":true,"nice":false,"zero":false,"padding":0},"axis":null},"x":{"field":"v","type":"quantitative","scale":{"domain":[0,30],"nice":false},"axis":{"values":[0,5,10,15,20],"domain":false,"grid":false,"title":null,"tickSize":3,"tickColor":"black","labelExpr":"datum.value > 0 && datum.value % 20 === 0 ? datum.label : ''","labelFontSize":15,"labelPadding":1,"labelColor":"black","labelOverlap":false,"labelFlush":false,"labelBound":false}}}},
{"data":{"values":[{}]},"mark":{"type":"rule","color":"black","strokeWidth":1.5},"encoding":{"x":{"datum":0,"axis":null}}},
{"data":{"values":[{}]},"mark":{"type":"rule","color":"black","strokeWidth":1.2},"encoding":{"x":{"datum":0,"axis":null},"x2":{"datum":19.5},"y":{"datum":-0.27,"axis":null}}},
{"data":{"values":[{}]},"mark":{"type":"rule","color":"black","strokeWidth":1.2},"encoding":{"x":{"datum":0,"axis":null},"x2":{"datum":20},"y":{"datum":74.38,"axis":null}}},
{"data":{"name":"z"},"mark":{"type":"rule","color":"black","strokeWidth":1.5},"encoding":{"y":{"field":"z","type":"quantitative","axis":null},"strokeDash":{"field":"s","type":"nominal","scale":{"domain":["solid","dash"],"range":[[1,0],[17,8]]},"legend":null}}},
{"data":{"values":[{}]},"mark":{"type":"text","angle":-44,"align":"left","baseline":"alphabetic","fontSize":23.5,"fontStyle":"italic","dx":-4,"dy":-8},"encoding":{"x":{"datum":0,"axis":null},"y":{"datum":-0.27,"axis":null},"text":{"value":"Abies"}}}
]},
{"width":33,"height":649,"resolve":{"axis":{"x":"independent","y":"independent"}},"layer":[
{"data":{"name":"p"},"transform":[{"filter":"datum.t==='Cyc'"}],"mark":{"type":"bar","orient":"horizontal","size":6,"color":"black"},"encoding":{"y":{"field":"r","type":"quantitative","scale":{"domain":[-0.27,74.38],"reverse":true,"nice":false,"zero":false,"padding":0},"axis":null},"x":{"field":"v","type":"quantitative","scale":{"domain":[0,33],"nice":false},"axis":{"values":[0,5,10,15,20],"domain":false,"grid":false,"title":null,"tickSize":3,"tickColor":"black","labelExpr":"datum.value > 0 && datum.value % 20 === 0 ? datum.label : ''","labelFontSize":15,"labelPadding":1,"labelColor":"black","labelOverlap":false,"labelFlush":false,"labelBound":false}}}},
{"data":{"values":[{}]},"mark":{"type":"rule","color":"black","strokeWidth":1.5},"encoding":{"x":{"datum":0,"axis":null}}},
{"data":{"values":[{}]},"mark":{"type":"rule","color":"black","strokeWidth":1.2},"encoding":{"x":{"datum":0,"axis":null},"x2":{"datum":22.6},"y":{"datum":-0.27,"axis":null}}},
{"data":{"values":[{}]},"mark":{"type":"rule","color":"black","strokeWidth":1.2},"encoding":{"x":{"datum":0,"axis":null},"x2":{"datum":22.6},"y":{"datum":74.38,"axis":null}}},
{"data":{"name":"z"},"mark":{"type":"rule","color":"black","strokeWidth":1.5},"encoding":{"y":{"field":"z","type":"quantitative","axis":null},"strokeDash":{"field":"s","type":"nominal","scale":{"domain":["solid","dash"],"range":[[1,0],[17,8]]},"legend":null}}},
{"data":{"values":[{}]},"mark":{"type":"text","angle":-44,"align":"left","baseline":"alphabetic","fontSize":23.5,"fontStyle":"italic","dx":-2,"dy":-8},"encoding":{"x":{"datum":0,"axis":null},"y":{"datum":-0.27,"axis":null},"text":{"value":"Cyclobalanopsis"}}}
]},
{"width":64,"height":649,"resolve":{"axis":{"x":"independent","y":"independent"}},"layer":[
{"data":{"name":"p"},"transform":[{"filter":"datum.t==='Que'"}],"mark":{"type":"bar","orient":"horizontal","size":6,"color":"black"},"encoding":{"y":{"field":"r","type":"quantitative","scale":{"domain":[-0.27,74.38],"reverse":true,"nice":false,"zero":false,"padding":0},"axis":null},"x":{"field":"v","type":"quantitative","scale":{"domain":[0,64],"nice":false},"axis":{"values":[0,5,10,15,20,25,30,35,40,45,50],"domain":false,"grid":false,"title":null,"tickSize":3,"tickColor":"black","labelExpr":"datum.value > 0 && datum.value % 20 === 0 ? datum.label : ''","labelFontSize":15,"labelPadding":1,"labelColor":"black","labelOverlap":false,"labelFlush":false,"labelBound":false}}}},
{"data":{"values":[{}]},"mark":{"type":"rule","color":"black","strokeWidth":1.5},"encoding":{"x":{"datum":0,"axis":null}}},
{"data":{"values":[{}]},"mark":{"type":"rule","color":"black","strokeWidth":1.2},"encoding":{"x":{"datum":0,"axis":null},"x2":{"datum":51.7},"y":{"datum":-0.27,"axis":null}}},
{"data":{"values":[{}]},"mark":{"type":"rule","color":"black","strokeWidth":1.2},"encoding":{"x":{"datum":0,"axis":null},"x2":{"datum":51.7},"y":{"datum":74.38,"axis":null}}},
{"data":{"name":"z"},"mark":{"type":"rule","color":"black","strokeWidth":1.5},"encoding":{"y":{"field":"z","type":"quantitative","axis":null},"strokeDash":{"field":"s","type":"nominal","scale":{"domain":["solid","dash"],"range":[[1,0],[17,8]]},"legend":null}}},
{"data":{"values":[{}]},"mark":{"type":"text","angle":-44,"align":"left","baseline":"alphabetic","fontSize":23.5,"fontStyle":"italic","dx":0,"dy":-8},"encoding":{"x":{"datum":0,"axis":null},"y":{"datum":-0.27,"axis":null},"text":{"value":"Quercus"}}}
]},
{"width":20,"height":649,"resolve":{"axis":{"x":"independent","y":"independent"}},"layer":[
{"data":{"name":"p"},"transform":[{"filter":"datum.t==='QuE'"}],"mark":{"type":"bar","orient":"horizontal","size":6,"color":"black"},"encoding":{"y":{"field":"r","type":"quantitative","scale":{"domain":[-0.27,74.38],"reverse":true,"nice":false,"zero":false,"padding":0},"axis":null},"x":{"field":"v","type":"quantitative","scale":{"domain":[0,20],"nice":false},"axis":{"values":[0,5,10],"domain":false,"grid":false,"title":null,"tickSize":3,"tickColor":"black","labelExpr":"datum.value > 0 && datum.value % 20 === 0 ? datum.label : ''","labelFontSize":15,"labelPadding":1,"labelColor":"black","labelOverlap":false,"labelFlush":false,"labelBound":false}}}},
{"data":{"values":[{}]},"mark":{"type":"rule","color":"black","strokeWidth":1.5},"encoding":{"x":{"datum":0,"axis":null}}},
{"data":{"values":[{}]},"mark":{"type":"rule","color":"black","strokeWidth":1.2},"encoding":{"x":{"datum":0,"axis":null},"x2":{"datum":10},"y":{"datum":-0.27,"axis":null}}},
{"data":{"values":[{}]},"mark":{"type":"rule","color":"black","strokeWidth":1.2},"encoding":{"x":{"datum":0,"axis":null},"x2":{"datum":10},"y":{"datum":74.38,"axis":null}}},
{"data":{"name":"z"},"mark":{"type":"rule","color":"black","strokeWidth":1.5},"encoding":{"y":{"field":"z","type":"quantitative","axis":null},"strokeDash":{"field":"s","type":"nominal","scale":{"domain":["solid","dash"],"range":[[1,0],[17,8]]},"legend":null}}},
{"data":{"values":[{}]},"mark":{"type":"text","angle":-44,"align":"left","baseline":"alphabetic","fontSize":23.5,"fontStyle":"italic","dx":0,"dy":-8},"encoding":{"x":{"datum":0,"axis":null},"y":{"datum":-0.27,"axis":null},"text":{"value":"Quercus（E）"}}}
]},
{"width":104,"height":649,"resolve":{"axis":{"x":"independent","y":"independent"}},"layer":[
{"data":{"name":"p"},"transform":[{"filter":"datum.t==='Ulm'"}],"mark":{"type":"bar","orient":"horizontal","size":6,"color":"black"},"encoding":{"y":{"field":"r","type":"quantitative","scale":{"domain":[-0.27,74.38],"reverse":true,"nice":false,"zero":false,"padding":0},"axis":null},"x":{"field":"v","type":"quantitative","scale":{"domain":[0,104],"nice":false},"axis":{"values":[0,5,10,15,20,25,30,35,40,45,50,55,60,65,70,75,80,85,90],"domain":false,"grid":false,"title":null,"tickSize":3,"tickColor":"black","labelExpr":"datum.value > 0 && datum.value % 20 === 0 ? datum.label : ''","labelFontSize":15,"labelPadding":1,"labelColor":"black","labelOverlap":false,"labelFlush":false,"labelBound":false}}}},
{"data":{"values":[{}]},"mark":{"type":"rule","color":"black","strokeWidth":1.5},"encoding":{"x":{"datum":0,"axis":null}}},
{"data":{"values":[{}]},"mark":{"type":"rule","color":"black","strokeWidth":1.2},"encoding":{"x":{"datum":0,"axis":null},"x2":{"datum":93},"y":{"datum":-0.27,"axis":null}}},
{"data":{"values":[{}]},"mark":{"type":"rule","color":"black","strokeWidth":1.2},"encoding":{"x":{"datum":0,"axis":null},"x2":{"datum":93},"y":{"datum":74.38,"axis":null}}},
{"data":{"name":"z"},"mark":{"type":"rule","color":"black","strokeWidth":1.5},"encoding":{"y":{"field":"z","type":"quantitative","axis":null},"strokeDash":{"field":"s","type":"nominal","scale":{"domain":["solid","dash"],"range":[[1,0],[17,8]]},"legend":null}}},
{"data":{"values":[{}]},"mark":{"type":"text","angle":-44,"align":"left","baseline":"alphabetic","fontSize":23.5,"fontStyle":"normal","dx":22,"dy":-8},"encoding":{"x":{"datum":0,"axis":null},"y":{"datum":-0.27,"axis":null},"text":{"value":"Ulmaceae"}}}
]},
{"width":64,"height":649,"resolve":{"axis":{"x":"independent","y":"independent"}},"layer":[
{"data":{"name":"p"},"transform":[{"filter":"datum.t==='Cor'"}],"mark":{"type":"bar","orient":"horizontal","size":6,"color":"black"},"encoding":{"y":{"field":"r","type":"quantitative","scale":{"domain":[-0.27,74.38],"reverse":true,"nice":false,"zero":false,"padding":0},"axis":null},"x":{"field":"v","type":"quantitative","scale":{"domain":[0,64],"nice":false},"axis":{"values":[0,5,10,15,20,25,30,35,40,45,50],"domain":false,"grid":false,"title":null,"tickSize":3,"tickColor":"black","labelExpr":"datum.value > 0 && datum.value % 20 === 0 ? datum.label : ''","labelFontSize":15,"labelPadding":1,"labelColor":"black","labelOverlap":false,"labelFlush":false,"labelBound":false}}}},
{"data":{"values":[{}]},"mark":{"type":"rule","color":"black","strokeWidth":1.5},"encoding":{"x":{"datum":0,"axis":null}}},
{"data":{"values":[{}]},"mark":{"type":"rule","color":"black","strokeWidth":1.2},"encoding":{"x":{"datum":0,"axis":null},"x2":{"datum":53},"y":{"datum":-0.27,"axis":null}}},
{"data":{"values":[{}]},"mark":{"type":"rule","color":"black","strokeWidth":1.2},"encoding":{"x":{"datum":0,"axis":null},"x2":{"datum":53},"y":{"datum":74.38,"axis":null}}},
{"data":{"name":"z"},"mark":{"type":"rule","color":"black","strokeWidth":1.5},"encoding":{"y":{"field":"z","type":"quantitative","axis":null},"strokeDash":{"field":"s","type":"nominal","scale":{"domain":["solid","dash"],"range":[[1,0],[17,8]]},"legend":null}}},
{"data":{"values":[{}]},"mark":{"type":"text","angle":-44,"align":"left","baseline":"alphabetic","fontSize":23.5,"fontStyle":"italic","dx":-3,"dy":-8},"encoding":{"x":{"datum":0,"axis":null},"y":{"datum":-0.27,"axis":null},"text":{"value":"Corylus/Carp."}}}
]},
{"width":63,"height":649,"resolve":{"axis":{"x":"independent","y":"independent"}},"layer":[
{"data":{"name":"p"},"transform":[{"filter":"datum.t==='Aln'"}],"mark":{"type":"bar","orient":"horizontal","size":6,"color":"black"},"encoding":{"y":{"field":"r","type":"quantitative","scale":{"domain":[-0.27,74.38],"reverse":true,"nice":false,"zero":false,"padding":0},"axis":null},"x":{"field":"v","type":"quantitative","scale":{"domain":[0,63],"nice":false},"axis":{"values":[0,5,10,15,20,25,30,35,40,45,50],"domain":false,"grid":false,"title":null,"tickSize":3,"tickColor":"black","labelExpr":"datum.value > 0 && datum.value % 20 === 0 ? datum.label : ''","labelFontSize":15,"labelPadding":1,"labelColor":"black","labelOverlap":false,"labelFlush":false,"labelBound":false}}}},
{"data":{"values":[{}]},"mark":{"type":"rule","color":"black","strokeWidth":1.5},"encoding":{"x":{"datum":0,"axis":null}}},
{"data":{"values":[{}]},"mark":{"type":"rule","color":"black","strokeWidth":1.2},"encoding":{"x":{"datum":0,"axis":null},"x2":{"datum":52},"y":{"datum":-0.27,"axis":null}}},
{"data":{"values":[{}]},"mark":{"type":"rule","color":"black","strokeWidth":1.2},"encoding":{"x":{"datum":0,"axis":null},"x2":{"datum":52},"y":{"datum":74.38,"axis":null}}},
{"data":{"name":"z"},"mark":{"type":"rule","color":"black","strokeWidth":1.5},"encoding":{"y":{"field":"z","type":"quantitative","axis":null},"strokeDash":{"field":"s","type":"nominal","scale":{"domain":["solid","dash"],"range":[[1,0],[17,8]]},"legend":null}}},
{"data":{"values":[{}]},"mark":{"type":"text","angle":-44,"align":"left","baseline":"alphabetic","fontSize":23.5,"fontStyle":"italic","dx":0,"dy":-8},"encoding":{"x":{"datum":0,"axis":null},"y":{"datum":-0.27,"axis":null},"text":{"value":"Alnus"}}}
]},
{"width":21,"height":649,"resolve":{"axis":{"x":"independent","y":"independent"}},"layer":[
{"data":{"name":"p"},"transform":[{"filter":"datum.t==='Bet'"}],"mark":{"type":"bar","orient":"horizontal","size":6,"color":"black"},"encoding":{"y":{"field":"r","type":"quantitative","scale":{"domain":[-0.27,74.38],"reverse":true,"nice":false,"zero":false,"padding":0},"axis":null},"x":{"field":"v","type":"quantitative","scale":{"domain":[0,21],"nice":false},"axis":{"values":[0,5,10],"domain":false,"grid":false,"title":null,"tickSize":3,"tickColor":"black","labelExpr":"datum.value > 0 && datum.value % 20 === 0 ? datum.label : ''","labelFontSize":15,"labelPadding":1,"labelColor":"black","labelOverlap":false,"labelFlush":false,"labelBound":false}}}},
{"data":{"values":[{}]},"mark":{"type":"rule","color":"black","strokeWidth":1.5},"encoding":{"x":{"datum":0,"axis":null}}},
{"data":{"values":[{}]},"mark":{"type":"rule","color":"black","strokeWidth":1.2},"encoding":{"x":{"datum":0,"axis":null},"x2":{"datum":10.7},"y":{"datum":-0.27,"axis":null}}},
{"data":{"values":[{}]},"mark":{"type":"rule","color":"black","strokeWidth":1.2},"encoding":{"x":{"datum":0,"axis":null},"x2":{"datum":10.7},"y":{"datum":74.38,"axis":null}}},
{"data":{"name":"z"},"mark":{"type":"rule","color":"black","strokeWidth":1.5},"encoding":{"y":{"field":"z","type":"quantitative","axis":null},"strokeDash":{"field":"s","type":"nominal","scale":{"domain":["solid","dash"],"range":[[1,0],[17,8]]},"legend":null}}},
{"data":{"values":[{}]},"mark":{"type":"text","angle":-44,"align":"left","baseline":"alphabetic","fontSize":23.5,"fontStyle":"italic","dx":-5,"dy":-8},"encoding":{"x":{"datum":0,"axis":null},"y":{"datum":-0.27,"axis":null},"text":{"value":"Betula"}}}
]},
{"width":31,"height":649,"resolve":{"axis":{"x":"independent","y":"independent"}},"layer":[
{"data":{"name":"p"},"transform":[{"filter":"datum.t==='Jug'"}],"mark":{"type":"bar","orient":"horizontal","size":6,"color":"black"},"encoding":{"y":{"field":"r","type":"quantitative","scale":{"domain":[-0.27,74.38],"reverse":true,"nice":false,"zero":false,"padding":0},"axis":null},"x":{"field":"v","type":"quantitative","scale":{"domain":[0,31],"nice":false},"axis":{"values":[0,5,10,15,20],"domain":false,"grid":false,"title":null,"tickSize":3,"tickColor":"black","labelExpr":"datum.value > 0 && datum.value % 20 === 0 ? datum.label : ''","labelFontSize":15,"labelPadding":1,"labelColor":"black","labelOverlap":false,"labelFlush":false,"labelBound":false}}}},
{"data":{"values":[{}]},"mark":{"type":"rule","color":"black","strokeWidth":1.5},"encoding":{"x":{"datum":0,"axis":null}}},
{"data":{"values":[{}]},"mark":{"type":"rule","color":"black","strokeWidth":1.2},"encoding":{"x":{"datum":0,"axis":null},"x2":{"datum":20.2},"y":{"datum":-0.27,"axis":null}}},
{"data":{"values":[{}]},"mark":{"type":"rule","color":"black","strokeWidth":1.2},"encoding":{"x":{"datum":0,"axis":null},"x2":{"datum":20.2},"y":{"datum":74.38,"axis":null}}},
{"data":{"name":"z"},"mark":{"type":"rule","color":"black","strokeWidth":1.5},"encoding":{"y":{"field":"z","type":"quantitative","axis":null},"strokeDash":{"field":"s","type":"nominal","scale":{"domain":["solid","dash"],"range":[[1,0],[17,8]]},"legend":null}}},
{"data":{"values":[{}]},"mark":{"type":"text","angle":-44,"align":"left","baseline":"alphabetic","fontSize":23.5,"fontStyle":"italic","dx":-3,"dy":-8},"encoding":{"x":{"datum":0,"axis":null},"y":{"datum":-0.27,"axis":null},"text":{"value":"Juglans"}}}
]},
{"width":23,"height":649,"resolve":{"axis":{"x":"independent","y":"independent"}},"layer":[
{"data":{"name":"p"},"transform":[{"filter":"datum.t==='Ptc'"}],"mark":{"type":"bar","orient":"horizontal","size":6,"color":"black"},"encoding":{"y":{"field":"r","type":"quantitative","scale":{"domain":[-0.27,74.38],"reverse":true,"nice":false,"zero":false,"padding":0},"axis":null},"x":{"field":"v","type":"quantitative","scale":{"domain":[0,23],"nice":false},"axis":{"values":[0,5,10],"domain":false,"grid":false,"title":null,"tickSize":3,"tickColor":"black","labelExpr":"datum.value > 0 && datum.value % 20 === 0 ? datum.label : ''","labelFontSize":15,"labelPadding":1,"labelColor":"black","labelOverlap":false,"labelFlush":false,"labelBound":false}}}},
{"data":{"values":[{}]},"mark":{"type":"rule","color":"black","strokeWidth":1.5},"encoding":{"x":{"datum":0,"axis":null}}},
{"data":{"values":[{}]},"mark":{"type":"rule","color":"black","strokeWidth":1.2},"encoding":{"x":{"datum":0,"axis":null},"x2":{"datum":12},"y":{"datum":-0.27,"axis":null}}},
{"data":{"values":[{}]},"mark":{"type":"rule","color":"black","strokeWidth":1.2},"encoding":{"x":{"datum":0,"axis":null},"x2":{"datum":12},"y":{"datum":74.38,"axis":null}}},
{"data":{"name":"z"},"mark":{"type":"rule","color":"black","strokeWidth":1.5},"encoding":{"y":{"field":"z","type":"quantitative","axis":null},"strokeDash":{"field":"s","type":"nominal","scale":{"domain":["solid","dash"],"range":[[1,0],[17,8]]},"legend":null}}},
{"data":{"values":[{}]},"mark":{"type":"text","angle":-44,"align":"left","baseline":"alphabetic","fontSize":23.5,"fontStyle":"italic","dx":-4,"dy":-8},"encoding":{"x":{"datum":0,"axis":null},"y":{"datum":-0.27,"axis":null},"text":{"value":"Pterocarya"}}}
]},
{"width":21,"height":649,"resolve":{"axis":{"x":"independent","y":"independent"}},"layer":[
{"data":{"name":"p"},"transform":[{"filter":"datum.t==='Ros'"}],"mark":{"type":"bar","orient":"horizontal","size":6,"color":"black"},"encoding":{"y":{"field":"r","type":"quantitative","scale":{"domain":[-0.27,74.38],"reverse":true,"nice":false,"zero":false,"padding":0},"axis":null},"x":{"field":"v","type":"quantitative","scale":{"domain":[0,21],"nice":false},"axis":{"values":[0,5,10],"domain":false,"grid":false,"title":null,"tickSize":3,"tickColor":"black","labelExpr":"datum.value > 0 && datum.value % 20 === 0 ? datum.label : ''","labelFontSize":15,"labelPadding":1,"labelColor":"black","labelOverlap":false,"labelFlush":false,"labelBound":false}}}},
{"data":{"values":[{}]},"mark":{"type":"rule","color":"black","strokeWidth":1.5},"encoding":{"x":{"datum":0,"axis":null}}},
{"data":{"values":[{}]},"mark":{"type":"rule","color":"black","strokeWidth":1.2},"encoding":{"x":{"datum":0,"axis":null},"x2":{"datum":11},"y":{"datum":-0.27,"axis":null}}},
{"data":{"values":[{}]},"mark":{"type":"rule","color":"black","strokeWidth":1.2},"encoding":{"x":{"datum":0,"axis":null},"x2":{"datum":11},"y":{"datum":74.38,"axis":null}}},
{"data":{"name":"z"},"mark":{"type":"rule","color":"black","strokeWidth":1.5},"encoding":{"y":{"field":"z","type":"quantitative","axis":null},"strokeDash":{"field":"s","type":"nominal","scale":{"domain":["solid","dash"],"range":[[1,0],[17,8]]},"legend":null}}},
{"data":{"values":[{}]},"mark":{"type":"text","angle":-44,"align":"left","baseline":"alphabetic","fontSize":23.5,"fontStyle":"normal","dx":1,"dy":-8},"encoding":{"x":{"datum":0,"axis":null},"y":{"datum":-0.27,"axis":null},"text":{"value":"Rosaceae"}}}
]},
{"width":63,"height":649,"resolve":{"axis":{"x":"independent","y":"independent"}},"layer":[
{"data":{"name":"p"},"transform":[{"filter":"datum.t==='Hip'"}],"mark":{"type":"bar","orient":"horizontal","size":6,"color":"black"},"encoding":{"y":{"field":"r","type":"quantitative","scale":{"domain":[-0.27,74.38],"reverse":true,"nice":false,"zero":false,"padding":0},"axis":null},"x":{"field":"v","type":"quantitative","scale":{"domain":[0,63],"nice":false},"axis":{"values":[0,5,10,15,20,25,30,35,40,45,50],"domain":false,"grid":false,"title":null,"tickSize":3,"tickColor":"black","labelExpr":"datum.value > 0 && datum.value % 20 === 0 ? datum.label : ''","labelFontSize":15,"labelPadding":1,"labelColor":"black","labelOverlap":false,"labelFlush":false,"labelBound":false}}}},
{"data":{"values":[{}]},"mark":{"type":"rule","color":"black","strokeWidth":1.5},"encoding":{"x":{"datum":0,"axis":null}}},
{"data":{"values":[{}]},"mark":{"type":"rule","color":"black","strokeWidth":1.2},"encoding":{"x":{"datum":0,"axis":null},"x2":{"datum":51.6},"y":{"datum":-0.27,"axis":null}}},
{"data":{"values":[{}]},"mark":{"type":"rule","color":"black","strokeWidth":1.2},"encoding":{"x":{"datum":0,"axis":null},"x2":{"datum":51.6},"y":{"datum":74.38,"axis":null}}},
{"data":{"name":"z"},"mark":{"type":"rule","color":"black","strokeWidth":1.5},"encoding":{"y":{"field":"z","type":"quantitative","axis":null},"strokeDash":{"field":"s","type":"nominal","scale":{"domain":["solid","dash"],"range":[[1,0],[17,8]]},"legend":null}}},
{"data":{"values":[{}]},"mark":{"type":"text","angle":-44,"align":"left","baseline":"alphabetic","fontSize":23.5,"fontStyle":"italic","dx":15,"dy":-8},"encoding":{"x":{"datum":0,"axis":null},"y":{"datum":-0.27,"axis":null},"text":{"value":"Hippophae"}}}
]},
{"width":84,"height":649,"resolve":{"axis":{"x":"independent","y":"independent"}},"layer":[
{"data":{"name":"p"},"transform":[{"filter":"datum.t==='Ptl'"}],"mark":{"type":"bar","orient":"horizontal","size":6,"color":"black"},"encoding":{"y":{"field":"r","type":"quantitative","scale":{"domain":[-0.27,74.38],"reverse":true,"nice":false,"zero":false,"padding":0},"axis":null},"x":{"field":"v","type":"quantitative","scale":{"domain":[0,84],"nice":false},"axis":{"values":[0,5,10,15,20,25,30,35,40,45,50,55,60,65,70],"domain":false,"grid":false,"title":null,"tickSize":3,"tickColor":"black","labelExpr":"datum.value > 0 && datum.value % 20 === 0 ? datum.label : ''","labelFontSize":15,"labelPadding":1,"labelColor":"black","labelOverlap":false,"labelFlush":false,"labelBound":false}}}},
{"data":{"values":[{}]},"mark":{"type":"rule","color":"black","strokeWidth":1.5},"encoding":{"x":{"datum":0,"axis":null}}},
{"data":{"values":[{}]},"mark":{"type":"rule","color":"black","strokeWidth":1.2},"encoding":{"x":{"datum":0,"axis":null},"x2":{"datum":73},"y":{"datum":-0.27,"axis":null}}},
{"data":{"values":[{}]},"mark":{"type":"rule","color":"black","strokeWidth":1.2},"encoding":{"x":{"datum":0,"axis":null},"x2":{"datum":73},"y":{"datum":74.38,"axis":null}}},
{"data":{"name":"z"},"mark":{"type":"rule","color":"black","strokeWidth":1.5},"encoding":{"y":{"field":"z","type":"quantitative","axis":null},"strokeDash":{"field":"s","type":"nominal","scale":{"domain":["solid","dash"],"range":[[1,0],[17,8]]},"legend":null}}},
{"data":{"values":[{}]},"mark":{"type":"text","angle":-44,"align":"left","baseline":"alphabetic","fontSize":23.5,"fontStyle":"italic","dx":-2,"dy":-8},"encoding":{"x":{"datum":0,"axis":null},"y":{"datum":-0.27,"axis":null},"text":{"value":"Pteroceltis"}}}
]},
{"width":63,"height":649,"resolve":{"axis":{"x":"independent","y":"independent"}},"layer":[
{"data":{"name":"p"},"transform":[{"filter":"datum.t==='Gra'"}],"mark":{"type":"bar","orient":"horizontal","size":6,"color":"black"},"encoding":{"y":{"field":"r","type":"quantitative","scale":{"domain":[-0.27,74.38],"reverse":true,"nice":false,"zero":false,"padding":0},"axis":null},"x":{"field":"v","type":"quantitative","scale":{"domain":[0,63],"nice":false},"axis":{"values":[0,5,10,15,20,25,30,35,40,45,50],"domain":false,"grid":false,"title":null,"tickSize":3,"tickColor":"black","labelExpr":"datum.value > 0 && datum.value % 20 === 0 ? datum.label : ''","labelFontSize":15,"labelPadding":1,"labelColor":"black","labelOverlap":false,"labelFlush":false,"labelBound":false}}}},
{"data":{"values":[{}]},"mark":{"type":"rule","color":"black","strokeWidth":1.5},"encoding":{"x":{"datum":0,"axis":null}}},
{"data":{"values":[{}]},"mark":{"type":"rule","color":"black","strokeWidth":1.2},"encoding":{"x":{"datum":0,"axis":null},"x2":{"datum":52},"y":{"datum":-0.27,"axis":null}}},
{"data":{"values":[{}]},"mark":{"type":"rule","color":"black","strokeWidth":1.2},"encoding":{"x":{"datum":0,"axis":null},"x2":{"datum":52},"y":{"datum":74.38,"axis":null}}},
{"data":{"name":"z"},"mark":{"type":"rule","color":"black","strokeWidth":1.5},"encoding":{"y":{"field":"z","type":"quantitative","axis":null},"strokeDash":{"field":"s","type":"nominal","scale":{"domain":["solid","dash"],"range":[[1,0],[17,8]]},"legend":null}}},
{"data":{"values":[{}]},"mark":{"type":"text","angle":-44,"align":"left","baseline":"alphabetic","fontSize":23.5,"fontStyle":"normal","dx":0,"dy":-8},"encoding":{"x":{"datum":0,"axis":null},"y":{"datum":-0.27,"axis":null},"text":{"value":"Gramineae"}}},
{"data":{"values":[{}]},"mark":{"type":"rule","color":"black","strokeWidth":1.2},"encoding":{"x":{"datum":105,"axis":null},"y":{"datum":-13.84,"axis":null},"x2":{"datum":162},"y2":{"datum":-20.34}}},
{"data":{"values":[{}]},"mark":{"type":"rule","color":"black","strokeWidth":1.2},"encoding":{"x":{"datum":162,"axis":null},"x2":{"datum":292},"y":{"datum":-20.34,"axis":null}}},
{"data":{"values":[{}]},"mark":{"type":"text","align":"center","baseline":"middle","fontSize":22.5},"encoding":{"x":{"datum":317,"axis":null},"y":{"datum":-20.28,"axis":null},"text":{"value":"Herb"}}},
{"data":{"values":[{}]},"mark":{"type":"rule","color":"black","strokeWidth":1.2},"encoding":{"x":{"datum":343,"axis":null},"x2":{"datum":479},"y":{"datum":-20.34,"axis":null}}},
{"data":{"values":[{}]},"mark":{"type":"rule","color":"black","strokeWidth":1.2},"encoding":{"x":{"datum":479,"axis":null},"y":{"datum":-20.34,"axis":null},"x2":{"datum":396},"y2":{"datum":-10.85}}}
]},
{"width":21,"height":649,"resolve":{"axis":{"x":"independent","y":"independent"}},"layer":[
{"data":{"name":"p"},"transform":[{"filter":"datum.t==='Lab'"}],"mark":{"type":"bar","orient":"horizontal","size":6,"color":"black"},"encoding":{"y":{"field":"r","type":"quantitative","scale":{"domain":[-0.27,74.38],"reverse":true,"nice":false,"zero":false,"padding":0},"axis":null},"x":{"field":"v","type":"quantitative","scale":{"domain":[0,21],"nice":false},"axis":{"values":[0,5,10],"domain":false,"grid":false,"title":null,"tickSize":3,"tickColor":"black","labelExpr":"datum.value > 0 && datum.value % 20 === 0 ? datum.label : ''","labelFontSize":15,"labelPadding":1,"labelColor":"black","labelOverlap":false,"labelFlush":false,"labelBound":false}}}},
{"data":{"values":[{}]},"mark":{"type":"rule","color":"black","strokeWidth":1.5},"encoding":{"x":{"datum":0,"axis":null}}},
{"data":{"values":[{}]},"mark":{"type":"rule","color":"black","strokeWidth":1.2},"encoding":{"x":{"datum":0,"axis":null},"x2":{"datum":10},"y":{"datum":-0.27,"axis":null}}},
{"data":{"values":[{}]},"mark":{"type":"rule","color":"black","strokeWidth":1.2},"encoding":{"x":{"datum":0,"axis":null},"x2":{"datum":10},"y":{"datum":74.38,"axis":null}}},
{"data":{"name":"z"},"mark":{"type":"rule","color":"black","strokeWidth":1.5},"encoding":{"y":{"field":"z","type":"quantitative","axis":null},"strokeDash":{"field":"s","type":"nominal","scale":{"domain":["solid","dash"],"range":[[1,0],[17,8]]},"legend":null}}},
{"data":{"values":[{}]},"mark":{"type":"text","angle":-44,"align":"left","baseline":"alphabetic","fontSize":23.5,"fontStyle":"italic","dx":0,"dy":-8},"encoding":{"x":{"datum":0,"axis":null},"y":{"datum":-0.27,"axis":null},"text":{"value":"Labiatae"}}}
]},
{"width":84,"height":649,"resolve":{"axis":{"x":"independent","y":"independent"}},"layer":[
{"data":{"name":"p"},"transform":[{"filter":"datum.t==='Art'"}],"mark":{"type":"bar","orient":"horizontal","size":6,"color":"black"},"encoding":{"y":{"field":"r","type":"quantitative","scale":{"domain":[-0.27,74.38],"reverse":true,"nice":false,"zero":false,"padding":0},"axis":null},"x":{"field":"v","type":"quantitative","scale":{"domain":[0,84],"nice":false},"axis":{"values":[0,5,10,15,20,25,30,35,40,45,50,55,60,65,70],"domain":false,"grid":false,"title":null,"tickSize":3,"tickColor":"black","labelExpr":"datum.value > 0 && datum.value % 20 === 0 ? datum.label : ''","labelFontSize":15,"labelPadding":1,"labelColor":"black","labelOverlap":false,"labelFlush":false,"labelBound":false}}}},
{"data":{"values":[{}]},"mark":{"type":"rule","color":"black","strokeWidth":1.5},"encoding":{"x":{"datum":0,"axis":null}}},
{"data":{"values":[{}]},"mark":{"type":"rule","color":"black","strokeWidth":1.2},"encoding":{"x":{"datum":0,"axis":null},"x2":{"datum":73},"y":{"datum":-0.27,"axis":null}}},
{"data":{"values":[{}]},"mark":{"type":"rule","color":"black","strokeWidth":1.2},"encoding":{"x":{"datum":0,"axis":null},"x2":{"datum":73},"y":{"datum":74.38,"axis":null}}},
{"data":{"name":"z"},"mark":{"type":"rule","color":"black","strokeWidth":1.5},"encoding":{"y":{"field":"z","type":"quantitative","axis":null},"strokeDash":{"field":"s","type":"nominal","scale":{"domain":["solid","dash"],"range":[[1,0],[17,8]]},"legend":null}}},
{"data":{"values":[{}]},"mark":{"type":"text","angle":-44,"align":"left","baseline":"alphabetic","fontSize":23.5,"fontStyle":"italic","dx":14,"dy":-8},"encoding":{"x":{"datum":0,"axis":null},"y":{"datum":-0.27,"axis":null},"text":{"value":"Aretmisia"}}}
]},
{"width":31,"height":649,"resolve":{"axis":{"x":"independent","y":"independent"}},"layer":[
{"data":{"name":"p"},"transform":[{"filter":"datum.t==='Ran'"}],"mark":{"type":"bar","orient":"horizontal","size":6,"color":"black"},"encoding":{"y":{"field":"r","type":"quantitative","scale":{"domain":[-0.27,74.38],"reverse":true,"nice":false,"zero":false,"padding":0},"axis":null},"x":{"field":"v","type":"quantitative","scale":{"domain":[0,31],"nice":false},"axis":{"values":[0,5,10,15,20],"domain":false,"grid":false,"title":null,"tickSize":3,"tickColor":"black","labelExpr":"datum.value > 0 && datum.value % 20 === 0 ? datum.label : ''","labelFontSize":15,"labelPadding":1,"labelColor":"black","labelOverlap":false,"labelFlush":false,"labelBound":false}}}},
{"data":{"values":[{}]},"mark":{"type":"rule","color":"black","strokeWidth":1.5},"encoding":{"x":{"datum":0,"axis":null}}},
{"data":{"values":[{}]},"mark":{"type":"rule","color":"black","strokeWidth":1.2},"encoding":{"x":{"datum":0,"axis":null},"x2":{"datum":20},"y":{"datum":-0.27,"axis":null}}},
{"data":{"values":[{}]},"mark":{"type":"rule","color":"black","strokeWidth":1.2},"encoding":{"x":{"datum":0,"axis":null},"x2":{"datum":20},"y":{"datum":74.38,"axis":null}}},
{"data":{"name":"z"},"mark":{"type":"rule","color":"black","strokeWidth":1.5},"encoding":{"y":{"field":"z","type":"quantitative","axis":null},"strokeDash":{"field":"s","type":"nominal","scale":{"domain":["solid","dash"],"range":[[1,0],[17,8]]},"legend":null}}},
{"data":{"values":[{}]},"mark":{"type":"text","angle":-44,"align":"left","baseline":"alphabetic","fontSize":23.5,"fontStyle":"normal","dx":-5,"dy":-8},"encoding":{"x":{"datum":0,"axis":null},"y":{"datum":-0.27,"axis":null},"text":{"value":"Ranunculaceae"}}}
]},
{"width":32,"height":649,"resolve":{"axis":{"x":"independent","y":"independent"}},"layer":[
{"data":{"name":"p"},"transform":[{"filter":"datum.t==='Bal'"}],"mark":{"type":"bar","orient":"horizontal","size":6,"color":"black"},"encoding":{"y":{"field":"r","type":"quantitative","scale":{"domain":[-0.27,74.38],"reverse":true,"nice":false,"zero":false,"padding":0},"axis":null},"x":{"field":"v","type":"quantitative","scale":{"domain":[0,32],"nice":false},"axis":{"values":[0,5,10,15,20],"domain":false,"grid":false,"title":null,"tickSize":3,"tickColor":"black","labelExpr":"datum.value > 0 && datum.value % 20 === 0 ? datum.label : ''","labelFontSize":15,"labelPadding":1,"labelColor":"black","labelOverlap":false,"labelFlush":false,"labelBound":false}}}},
{"data":{"values":[{}]},"mark":{"type":"rule","color":"black","strokeWidth":1.5},"encoding":{"x":{"datum":0,"axis":null}}},
{"data":{"values":[{}]},"mark":{"type":"rule","color":"black","strokeWidth":1.2},"encoding":{"x":{"datum":0,"axis":null},"x2":{"datum":21},"y":{"datum":-0.27,"axis":null}}},
{"data":{"values":[{}]},"mark":{"type":"rule","color":"black","strokeWidth":1.2},"encoding":{"x":{"datum":0,"axis":null},"x2":{"datum":21},"y":{"datum":74.38,"axis":null}}},
{"data":{"name":"z"},"mark":{"type":"rule","color":"black","strokeWidth":1.5},"encoding":{"y":{"field":"z","type":"quantitative","axis":null},"strokeDash":{"field":"s","type":"nominal","scale":{"domain":["solid","dash"],"range":[[1,0],[17,8]]},"legend":null}}},
{"data":{"values":[{}]},"mark":{"type":"text","angle":-44,"align":"left","baseline":"alphabetic","fontSize":23.5,"fontStyle":"normal","dx":-9,"dy":-8},"encoding":{"x":{"datum":0,"axis":null},"y":{"datum":-0.27,"axis":null},"text":{"value":"Balsaminaceae"}}}
]},
{"width":22,"height":649,"resolve":{"axis":{"x":"independent","y":"independent"}},"layer":[
{"data":{"name":"p"},"transform":[{"filter":"datum.t==='Car'"}],"mark":{"type":"bar","orient":"horizontal","size":6,"color":"black"},"encoding":{"y":{"field":"r","type":"quantitative","scale":{"domain":[-0.27,74.38],"reverse":true,"nice":false,"zero":false,"padding":0},"axis":null},"x":{"field":"v","type":"quantitative","scale":{"domain":[0,22],"nice":false},"axis":{"values":[0,5,10],"domain":false,"grid":false,"title":null,"tickSize":3,"tickColor":"black","labelExpr":"datum.value > 0 && datum.value % 20 === 0 ? datum.label : ''","labelFontSize":15,"labelPadding":1,"labelColor":"black","labelOverlap":false,"labelFlush":false,"labelBound":false}}}},
{"data":{"values":[{}]},"mark":{"type":"rule","color":"black","strokeWidth":1.5},"encoding":{"x":{"datum":0,"axis":null}}},
{"data":{"values":[{}]},"mark":{"type":"rule","color":"black","strokeWidth":1.2},"encoding":{"x":{"datum":0,"axis":null},"x2":{"datum":11},"y":{"datum":-0.27,"axis":null}}},
{"data":{"values":[{}]},"mark":{"type":"rule","color":"black","strokeWidth":1.2},"encoding":{"x":{"datum":0,"axis":null},"x2":{"datum":11},"y":{"datum":74.38,"axis":null}}},
{"data":{"name":"z"},"mark":{"type":"rule","color":"black","strokeWidth":1.5},"encoding":{"y":{"field":"z","type":"quantitative","axis":null},"strokeDash":{"field":"s","type":"nominal","scale":{"domain":["solid","dash"],"range":[[1,0],[17,8]]},"legend":null}}},
{"data":{"values":[{}]},"mark":{"type":"text","angle":-44,"align":"left","baseline":"alphabetic","fontSize":23.5,"fontStyle":"normal","dx":-2,"dy":-8},"encoding":{"x":{"datum":0,"axis":null},"y":{"datum":-0.27,"axis":null},"text":{"value":"Caryophyllaceae"}}}
]},
{"width":62,"height":649,"resolve":{"axis":{"x":"independent","y":"independent"}},"layer":[
{"data":{"name":"p"},"transform":[{"filter":"datum.t==='Cyp'"}],"mark":{"type":"bar","orient":"horizontal","size":6,"color":"black"},"encoding":{"y":{"field":"r","type":"quantitative","scale":{"domain":[-0.27,74.38],"reverse":true,"nice":false,"zero":false,"padding":0},"axis":null},"x":{"field":"v","type":"quantitative","scale":{"domain":[0,62],"nice":false},"axis":{"values":[0,5,10,15,20,25,30,35,40,45,50],"domain":false,"grid":false,"title":null,"tickSize":3,"tickColor":"black","labelExpr":"datum.value > 0 && datum.value % 20 === 0 ? datum.label : ''","labelFontSize":15,"labelPadding":1,"labelColor":"black","labelOverlap":false,"labelFlush":false,"labelBound":false}}}},
{"data":{"values":[{}]},"mark":{"type":"rule","color":"black","strokeWidth":1.5},"encoding":{"x":{"datum":0,"axis":null}}},
{"data":{"values":[{}]},"mark":{"type":"rule","color":"black","strokeWidth":1.2},"encoding":{"x":{"datum":0,"axis":null},"x2":{"datum":52},"y":{"datum":-0.27,"axis":null}}},
{"data":{"values":[{}]},"mark":{"type":"rule","color":"black","strokeWidth":1.2},"encoding":{"x":{"datum":0,"axis":null},"x2":{"datum":52},"y":{"datum":74.38,"axis":null}}},
{"data":{"name":"z"},"mark":{"type":"rule","color":"black","strokeWidth":1.5},"encoding":{"y":{"field":"z","type":"quantitative","axis":null},"strokeDash":{"field":"s","type":"nominal","scale":{"domain":["solid","dash"],"range":[[1,0],[17,8]]},"legend":null}}},
{"data":{"values":[{}]},"mark":{"type":"text","angle":-44,"align":"left","baseline":"alphabetic","fontSize":23.5,"fontStyle":"italic","dx":21,"dy":-8},"encoding":{"x":{"datum":0,"axis":null},"y":{"datum":-0.27,"axis":null},"text":{"value":"Cyperus"}}}
]},
{"width":23,"height":649,"resolve":{"axis":{"x":"independent","y":"independent"}},"layer":[
{"data":{"name":"p"},"transform":[{"filter":"datum.t==='Typ'"}],"mark":{"type":"bar","orient":"horizontal","size":6,"color":"black"},"encoding":{"y":{"field":"r","type":"quantitative","scale":{"domain":[-0.27,74.38],"reverse":true,"nice":false,"zero":false,"padding":0},"axis":null},"x":{"field":"v","type":"quantitative","scale":{"domain":[0,23],"nice":false},"axis":{"values":[0,5,10],"domain":false,"grid":false,"title":null,"tickSize":3,"tickColor":"black","labelExpr":"datum.value > 0 && datum.value % 20 === 0 ? datum.label : ''","labelFontSize":15,"labelPadding":1,"labelColor":"black","labelOverlap":false,"labelFlush":false,"labelBound":false}}}},
{"data":{"values":[{}]},"mark":{"type":"rule","color":"black","strokeWidth":1.5},"encoding":{"x":{"datum":0,"axis":null}}},
{"data":{"values":[{}]},"mark":{"type":"rule","color":"black","strokeWidth":1.2},"encoding":{"x":{"datum":0,"axis":null},"x2":{"datum":12},"y":{"datum":-0.27,"axis":null}}},
{"data":{"values":[{}]},"mark":{"type":"rule","color":"black","strokeWidth":1.2},"encoding":{"x":{"datum":0,"axis":null},"x2":{"datum":12},"y":{"datum":74.38,"axis":null}}},
{"data":{"name":"z"},"mark":{"type":"rule","color":"black","strokeWidth":1.5},"encoding":{"y":{"field":"z","type":"quantitative","axis":null},"strokeDash":{"field":"s","type":"nominal","scale":{"domain":["solid","dash"],"range":[[1,0],[17,8]]},"legend":null}}},
{"data":{"values":[{}]},"mark":{"type":"text","angle":-44,"align":"left","baseline":"alphabetic","fontSize":23.5,"fontStyle":"italic","dx":0,"dy":-8},"encoding":{"x":{"datum":0,"axis":null},"y":{"datum":-0.27,"axis":null},"text":{"value":"Typha"}}}
]},
{"width":93,"height":649,"resolve":{"axis":{"x":"independent","y":"independent"}},"layer":[
{"data":{"name":"p"},"transform":[{"filter":"datum.t==='Pol'"}],"mark":{"type":"bar","orient":"horizontal","size":6,"color":"black"},"encoding":{"y":{"field":"r","type":"quantitative","scale":{"domain":[-0.27,74.38],"reverse":true,"nice":false,"zero":false,"padding":0},"axis":null},"x":{"field":"v","type":"quantitative","scale":{"domain":[0,502.2],"nice":false},"axis":{"values":[0,50,100,150,200,250,300,350,400],"domain":false,"grid":false,"title":null,"tickSize":3,"tickColor":"black","labelExpr":"datum.value === 200 || datum.value === 400 ? datum.label : ''","labelFontSize":15,"labelPadding":1,"labelColor":"black","labelOverlap":false,"labelFlush":false,"labelBound":false}}}},
{"data":{"values":[{}]},"mark":{"type":"rule","color":"black","strokeWidth":1.5},"encoding":{"x":{"datum":0,"axis":null}}},
{"data":{"values":[{}]},"mark":{"type":"rule","color":"black","strokeWidth":1.2},"encoding":{"x":{"datum":0,"axis":null},"x2":{"datum":418},"y":{"datum":-0.27,"axis":null}}},
{"data":{"values":[{}]},"mark":{"type":"rule","color":"black","strokeWidth":1.2},"encoding":{"x":{"datum":0,"axis":null},"x2":{"datum":418},"y":{"datum":74.38,"axis":null}}},
{"data":{"name":"z"},"mark":{"type":"rule","color":"black","strokeWidth":1.5},"encoding":{"y":{"field":"z","type":"quantitative","axis":null},"strokeDash":{"field":"s","type":"nominal","scale":{"domain":["solid","dash"],"range":[[1,0],[17,8]]},"legend":null}}},
{"data":{"values":[{}]},"mark":{"type":"text","angle":-44,"align":"left","baseline":"alphabetic","fontSize":23.5,"fontStyle":"normal","dx":16,"dy":-8},"encoding":{"x":{"datum":0,"axis":null},"y":{"datum":-0.27,"axis":null},"text":{"value":"Polypodiaceae"}}}
]},
{"width":25,"height":649,"resolve":{"axis":{"x":"independent","y":"independent"}},"layer":[
{"data":{"name":"p"},"transform":[{"filter":"datum.t==='Pyr'"}],"mark":{"type":"bar","orient":"horizontal","size":6,"color":"black"},"encoding":{"y":{"field":"r","type":"quantitative","scale":{"domain":[-0.27,74.38],"reverse":true,"nice":false,"zero":false,"padding":0},"axis":null},"x":{"field":"v","type":"quantitative","scale":{"domain":[0,25],"nice":false},"axis":{"values":[0,5,10],"domain":false,"grid":false,"title":null,"tickSize":3,"tickColor":"black","labelExpr":"datum.value > 0 && datum.value % 20 === 0 ? datum.label : ''","labelFontSize":15,"labelPadding":1,"labelColor":"black","labelOverlap":false,"labelFlush":false,"labelBound":false}}}},
{"data":{"values":[{}]},"mark":{"type":"rule","color":"black","strokeWidth":1.5},"encoding":{"x":{"datum":0,"axis":null}}},
{"data":{"values":[{}]},"mark":{"type":"rule","color":"black","strokeWidth":1.2},"encoding":{"x":{"datum":0,"axis":null},"x2":{"datum":10.5},"y":{"datum":-0.27,"axis":null}}},
{"data":{"values":[{}]},"mark":{"type":"rule","color":"black","strokeWidth":1.2},"encoding":{"x":{"datum":0,"axis":null},"x2":{"datum":10.5},"y":{"datum":74.38,"axis":null}}},
{"data":{"name":"z"},"mark":{"type":"rule","color":"black","strokeWidth":1.5},"encoding":{"y":{"field":"z","type":"quantitative","axis":null},"strokeDash":{"field":"s","type":"nominal","scale":{"domain":["solid","dash"],"range":[[1,0],[17,8]]},"legend":null}}},
{"data":{"values":[{}]},"mark":{"type":"text","angle":-44,"align":"left","baseline":"alphabetic","fontSize":23.5,"fontStyle":"italic","dx":-8,"dy":-8},"encoding":{"x":{"datum":0,"axis":null},"y":{"datum":-0.27,"axis":null},"text":{"value":"Pyrrosia"}}},
{"data":{"values":[{}]},"mark":{"type":"rule","color":"black","strokeWidth":1.2},"encoding":{"x":{"datum":28,"axis":null},"y":{"datum":-15.56,"axis":null},"x2":{"datum":69},"y2":{"datum":-20.34}}},
{"data":{"values":[{}]},"mark":{"type":"rule","color":"black","strokeWidth":1.2},"encoding":{"x":{"datum":69,"axis":null},"x2":{"datum":227},"y":{"datum":-20.34,"axis":null}}},
{"data":{"values":[{}]},"mark":{"type":"text","align":"center","baseline":"middle","fontSize":22.5},"encoding":{"x":{"datum":258,"axis":null},"y":{"datum":-20.28,"axis":null},"text":{"value":"Fern"}}},
{"data":{"values":[{}]},"mark":{"type":"rule","color":"black","strokeWidth":1.2},"encoding":{"x":{"datum":290,"axis":null},"x2":{"datum":434},"y":{"datum":-20.34,"axis":null}}},
{"data":{"values":[{}]},"mark":{"type":"rule","color":"black","strokeWidth":1.2},"encoding":{"x":{"datum":434,"axis":null},"y":{"datum":-20.34,"axis":null},"x2":{"datum":384},"y2":{"datum":-14.06}}}
]},
{"width":27,"height":649,"resolve":{"axis":{"x":"independent","y":"independent"}},"layer":[
{"data":{"name":"p"},"transform":[{"filter":"datum.t==='Lyc'"}],"mark":{"type":"bar","orient":"horizontal","size":6,"color":"black"},"encoding":{"y":{"field":"r","type":"quantitative","scale":{"domain":[-0.27,74.38],"reverse":true,"nice":false,"zero":false,"padding":0},"axis":null},"x":{"field":"v","type":"quantitative","scale":{"domain":[0,27],"nice":false},"axis":{"values":[0,5,10],"domain":false,"grid":false,"title":null,"tickSize":3,"tickColor":"black","labelExpr":"datum.value > 0 && datum.value % 20 === 0 ? datum.label : ''","labelFontSize":15,"labelPadding":1,"labelColor":"black","labelOverlap":false,"labelFlush":false,"labelBound":false}}}},
{"data":{"values":[{}]},"mark":{"type":"rule","color":"black","strokeWidth":1.5},"encoding":{"x":{"datum":0,"axis":null}}},
{"data":{"values":[{}]},"mark":{"type":"rule","color":"black","strokeWidth":1.2},"encoding":{"x":{"datum":0,"axis":null},"x2":{"datum":11.5},"y":{"datum":-0.27,"axis":null}}},
{"data":{"values":[{}]},"mark":{"type":"rule","color":"black","strokeWidth":1.2},"encoding":{"x":{"datum":0,"axis":null},"x2":{"datum":11.5},"y":{"datum":74.38,"axis":null}}},
{"data":{"name":"z"},"mark":{"type":"rule","color":"black","strokeWidth":1.5},"encoding":{"y":{"field":"z","type":"quantitative","axis":null},"strokeDash":{"field":"s","type":"nominal","scale":{"domain":["solid","dash"],"range":[[1,0],[17,8]]},"legend":null}}},
{"data":{"values":[{}]},"mark":{"type":"text","angle":-44,"align":"left","baseline":"alphabetic","fontSize":23.5,"fontStyle":"italic","dx":-5,"dy":-8},"encoding":{"x":{"datum":0,"axis":null},"y":{"datum":-0.27,"axis":null},"text":{"value":"Lycopodium"}}}
]},
{"width":31,"height":649,"resolve":{"axis":{"x":"independent","y":"independent"}},"layer":[
{"data":{"name":"p"},"transform":[{"filter":"datum.t==='Pte'"}],"mark":{"type":"bar","orient":"horizontal","size":6,"color":"black"},"encoding":{"y":{"field":"r","type":"quantitative","scale":{"domain":[-0.27,74.38],"reverse":true,"nice":false,"zero":false,"padding":0},"axis":null},"x":{"field":"v","type":"quantitative","scale":{"domain":[0,31],"nice":false},"axis":{"values":[0,5,10,15,20],"domain":false,"grid":false,"title":null,"tickSize":3,"tickColor":"black","labelExpr":"datum.value > 0 && datum.value % 20 === 0 ? datum.label : ''","labelFontSize":15,"labelPadding":1,"labelColor":"black","labelOverlap":false,"labelFlush":false,"labelBound":false}}}},
{"data":{"values":[{}]},"mark":{"type":"rule","color":"black","strokeWidth":1.5},"encoding":{"x":{"datum":0,"axis":null}}},
{"data":{"values":[{}]},"mark":{"type":"rule","color":"black","strokeWidth":1.2},"encoding":{"x":{"datum":0,"axis":null},"x2":{"datum":20.8},"y":{"datum":-0.27,"axis":null}}},
{"data":{"values":[{}]},"mark":{"type":"rule","color":"black","strokeWidth":1.2},"encoding":{"x":{"datum":0,"axis":null},"x2":{"datum":20.8},"y":{"datum":74.38,"axis":null}}},
{"data":{"name":"z"},"mark":{"type":"rule","color":"black","strokeWidth":1.5},"encoding":{"y":{"field":"z","type":"quantitative","axis":null},"strokeDash":{"field":"s","type":"nominal","scale":{"domain":["solid","dash"],"range":[[1,0],[17,8]]},"legend":null}}},
{"data":{"values":[{}]},"mark":{"type":"text","angle":-44,"align":"left","baseline":"alphabetic","fontSize":23.5,"fontStyle":"italic","dx":-1,"dy":-8},"encoding":{"x":{"datum":0,"axis":null},"y":{"datum":-0.27,"axis":null},"text":{"value":"Pteris"}}}
]},
{"width":23,"height":649,"resolve":{"axis":{"x":"independent","y":"independent"}},"layer":[
{"data":{"name":"p"},"transform":[{"filter":"datum.t==='Hic'"}],"mark":{"type":"bar","orient":"horizontal","size":6,"color":"black"},"encoding":{"y":{"field":"r","type":"quantitative","scale":{"domain":[-0.27,74.38],"reverse":true,"nice":false,"zero":false,"padding":0},"axis":null},"x":{"field":"v","type":"quantitative","scale":{"domain":[0,23],"nice":false},"axis":{"values":[0,5,10],"domain":false,"grid":false,"title":null,"tickSize":3,"tickColor":"black","labelExpr":"datum.value > 0 && datum.value % 20 === 0 ? datum.label : ''","labelFontSize":15,"labelPadding":1,"labelColor":"black","labelOverlap":false,"labelFlush":false,"labelBound":false}}}},
{"data":{"values":[{}]},"mark":{"type":"rule","color":"black","strokeWidth":1.5},"encoding":{"x":{"datum":0,"axis":null}}},
{"data":{"values":[{}]},"mark":{"type":"rule","color":"black","strokeWidth":1.2},"encoding":{"x":{"datum":0,"axis":null},"x2":{"datum":10.6},"y":{"datum":-0.27,"axis":null}}},
{"data":{"values":[{}]},"mark":{"type":"rule","color":"black","strokeWidth":1.2},"encoding":{"x":{"datum":0,"axis":null},"x2":{"datum":10.6},"y":{"datum":74.38,"axis":null}}},
{"data":{"name":"z"},"mark":{"type":"rule","color":"black","strokeWidth":1.5},"encoding":{"y":{"field":"z","type":"quantitative","axis":null},"strokeDash":{"field":"s","type":"nominal","scale":{"domain":["solid","dash"],"range":[[1,0],[17,8]]},"legend":null}}},
{"data":{"values":[{}]},"mark":{"type":"text","angle":-44,"align":"left","baseline":"alphabetic","fontSize":23.5,"fontStyle":"italic","dx":-5,"dy":-8},"encoding":{"x":{"datum":0,"axis":null},"y":{"datum":-0.27,"axis":null},"text":{"value":"Hicriopteris"}}}
]},
{"width":21,"height":649,"resolve":{"axis":{"x":"independent","y":"independent"}},"layer":[
{"data":{"name":"p"},"transform":[{"filter":"datum.t==='Hym'"}],"mark":{"type":"bar","orient":"horizontal","size":6,"color":"black"},"encoding":{"y":{"field":"r","type":"quantitative","scale":{"domain":[-0.27,74.38],"reverse":true,"nice":false,"zero":false,"padding":0},"axis":null},"x":{"field":"v","type":"quantitative","scale":{"domain":[0,21],"nice":false},"axis":{"values":[0,5,10],"domain":false,"grid":false,"title":null,"tickSize":3,"tickColor":"black","labelExpr":"datum.value > 0 && datum.value % 20 === 0 ? datum.label : ''","labelFontSize":15,"labelPadding":1,"labelColor":"black","labelOverlap":false,"labelFlush":false,"labelBound":false}}}},
{"data":{"values":[{}]},"mark":{"type":"rule","color":"black","strokeWidth":1.5},"encoding":{"x":{"datum":0,"axis":null}}},
{"data":{"values":[{}]},"mark":{"type":"rule","color":"black","strokeWidth":1.2},"encoding":{"x":{"datum":0,"axis":null},"x2":{"datum":11.4},"y":{"datum":-0.27,"axis":null}}},
{"data":{"values":[{}]},"mark":{"type":"rule","color":"black","strokeWidth":1.2},"encoding":{"x":{"datum":0,"axis":null},"x2":{"datum":11.4},"y":{"datum":74.38,"axis":null}}},
{"data":{"name":"z"},"mark":{"type":"rule","color":"black","strokeWidth":1.5},"encoding":{"y":{"field":"z","type":"quantitative","axis":null},"strokeDash":{"field":"s","type":"nominal","scale":{"domain":["solid","dash"],"range":[[1,0],[17,8]]},"legend":null}}},
{"data":{"values":[{}]},"mark":{"type":"text","angle":-44,"align":"left","baseline":"alphabetic","fontSize":23.5,"fontStyle":"normal","dx":3,"dy":-8},"encoding":{"x":{"datum":0,"axis":null},"y":{"datum":-0.27,"axis":null},"text":{"value":"Hymenophyllaceae"}}}
]},
{"width":118,"height":649,"resolve":{"axis":{"x":"independent","y":"independent"}},"layer":[
{"data":{"name":"p"},"transform":[{"filter":"datum.t==='Sel'"}],"mark":{"type":"bar","orient":"horizontal","size":6,"color":"black"},"encoding":{"y":{"field":"r","type":"quantitative","scale":{"domain":[-0.27,74.38],"reverse":true,"nice":false,"zero":false,"padding":0},"axis":null},"x":{"field":"v","type":"quantitative","scale":{"domain":[0,118],"nice":false},"axis":{"values":[0,5,10,15,20,25,30,35,40,45,50,55,60,65,70,75,80,85,90,95,100],"domain":false,"grid":false,"title":null,"tickSize":3,"tickColor":"black","labelExpr":"datum.value > 0 && datum.value % 20 === 0 ? datum.label : ''","labelFontSize":15,"labelPadding":1,"labelColor":"black","labelOverlap":false,"labelFlush":false,"labelBound":false}}}},
{"data":{"values":[{}]},"mark":{"type":"rule","color":"black","strokeWidth":1.5},"encoding":{"x":{"datum":0,"axis":null}}},
{"data":{"values":[{}]},"mark":{"type":"rule","color":"black","strokeWidth":1.2},"encoding":{"x":{"datum":0,"axis":null},"x2":{"datum":103.6},"y":{"datum":-0.27,"axis":null}}},
{"data":{"values":[{}]},"mark":{"type":"rule","color":"black","strokeWidth":1.2},"encoding":{"x":{"datum":0,"axis":null},"x2":{"datum":103.6},"y":{"datum":74.38,"axis":null}}},
{"data":{"name":"z"},"mark":{"type":"rule","color":"black","strokeWidth":1.5},"encoding":{"y":{"field":"z","type":"quantitative","axis":null},"strokeDash":{"field":"s","type":"nominal","scale":{"domain":["solid","dash"],"range":[[1,0],[17,8]]},"legend":null}}},
{"data":{"values":[{}]},"mark":{"type":"text","angle":-44,"align":"left","baseline":"alphabetic","fontSize":23.5,"fontStyle":"italic","dx":31,"dy":-8},"encoding":{"x":{"datum":0,"axis":null},"y":{"datum":-0.27,"axis":null},"text":{"value":"Selaginella"}}}
]},
{"width":34,"height":649,"resolve":{"axis":{"x":"independent","y":"independent"}},"layer":[
{"data":{"name":"p"},"transform":[{"filter":"datum.t==='Adi'"}],"mark":{"type":"bar","orient":"horizontal","size":6,"color":"black"},"encoding":{"y":{"field":"r","type":"quantitative","scale":{"domain":[-0.27,74.38],"reverse":true,"nice":false,"zero":false,"padding":0},"axis":null},"x":{"field":"v","type":"quantitative","scale":{"domain":[0,34],"nice":false},"axis":{"values":[0,5,10,15,20],"domain":false,"grid":false,"title":null,"tickSize":3,"tickColor":"black","labelExpr":"datum.value > 0 && datum.value % 20 === 0 ? datum.label : ''","labelFontSize":15,"labelPadding":1,"labelColor":"black","labelOverlap":false,"labelFlush":false,"labelBound":false}}}},
{"data":{"values":[{}]},"mark":{"type":"rule","color":"black","strokeWidth":1.5},"encoding":{"x":{"datum":0,"axis":null}}},
{"data":{"values":[{}]},"mark":{"type":"rule","color":"black","strokeWidth":1.2},"encoding":{"x":{"datum":0,"axis":null},"x2":{"datum":22.2},"y":{"datum":-0.27,"axis":null}}},
{"data":{"values":[{}]},"mark":{"type":"rule","color":"black","strokeWidth":1.2},"encoding":{"x":{"datum":0,"axis":null},"x2":{"datum":22.2},"y":{"datum":74.38,"axis":null}}},
{"data":{"name":"z"},"mark":{"type":"rule","color":"black","strokeWidth":1.5},"encoding":{"y":{"field":"z","type":"quantitative","axis":null},"strokeDash":{"field":"s","type":"nominal","scale":{"domain":["solid","dash"],"range":[[1,0],[17,8]]},"legend":null}}},
{"data":{"values":[{}]},"mark":{"type":"text","angle":-44,"align":"left","baseline":"alphabetic","fontSize":23.5,"fontStyle":"normal","dx":-3,"dy":-8},"encoding":{"x":{"datum":0,"axis":null},"y":{"datum":-0.27,"axis":null},"text":{"value":"Adiantaceae"}}}
]},
{"width":62,"height":649,"resolve":{"axis":{"x":"independent","y":"independent"}},"layer":[
{"data":{"name":"p"},"transform":[{"filter":"datum.t==='Tri'"}],"mark":{"type":"bar","orient":"horizontal","size":6,"color":"black"},"encoding":{"y":{"field":"r","type":"quantitative","scale":{"domain":[-0.27,74.38],"reverse":true,"nice":false,"zero":false,"padding":0},"axis":null},"x":{"field":"v","type":"quantitative","scale":{"domain":[0,62],"nice":false},"axis":{"values":[0,5,10,15,20,25,30,35,40,45,50],"domain":false,"grid":false,"title":null,"tickSize":3,"tickColor":"black","labelExpr":"datum.value > 0 && datum.value % 20 === 0 ? datum.label : ''","labelFontSize":15,"labelPadding":1,"labelColor":"black","labelOverlap":false,"labelFlush":false,"labelBound":false}}}},
{"data":{"values":[{}]},"mark":{"type":"rule","color":"black","strokeWidth":1.5},"encoding":{"x":{"datum":0,"axis":null}}},
{"data":{"values":[{}]},"mark":{"type":"rule","color":"black","strokeWidth":1.5},"encoding":{"x":{"datum":62,"axis":null}}},
{"data":{"values":[{}]},"mark":{"type":"rule","color":"black","strokeWidth":1.2},"encoding":{"x":{"datum":0,"axis":null},"x2":{"datum":51.3},"y":{"datum":-0.27,"axis":null}}},
{"data":{"values":[{}]},"mark":{"type":"rule","color":"black","strokeWidth":1.2},"encoding":{"x":{"datum":0,"axis":null},"x2":{"datum":51.3},"y":{"datum":74.38,"axis":null}}},
{"data":{"name":"z"},"mark":{"type":"rule","color":"black","strokeWidth":1.5},"encoding":{"y":{"field":"z","type":"quantitative","axis":null},"strokeDash":{"field":"s","type":"nominal","scale":{"domain":["solid","dash"],"range":[[1,0],[17,8]]},"legend":null}}},
{"data":{"values":[{}]},"mark":{"type":"text","angle":-44,"align":"left","baseline":"alphabetic","fontSize":23.5,"fontStyle":"normal","dx":4,"dy":-8},"encoding":{"x":{"datum":0,"axis":null},"y":{"datum":-0.27,"axis":null},"text":{"value":"Trilete spore"}}}
]}
]
}
